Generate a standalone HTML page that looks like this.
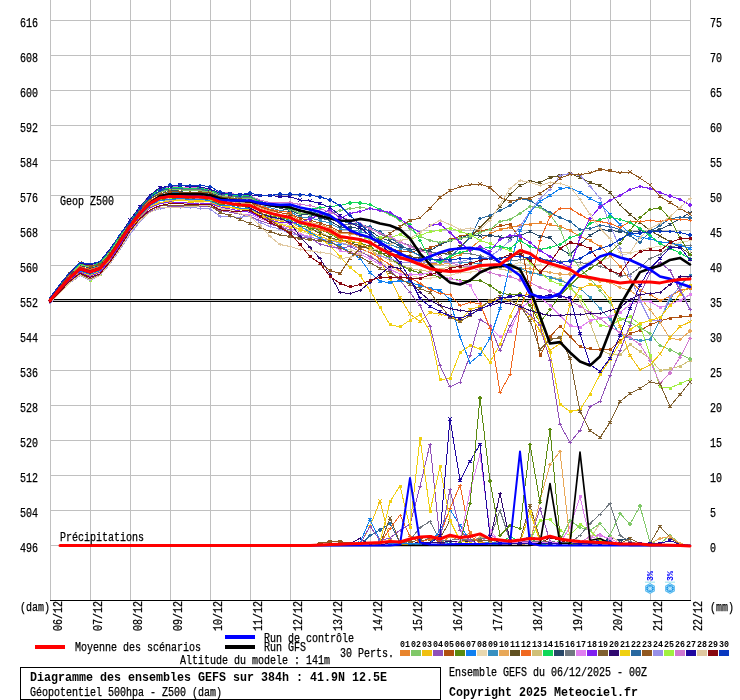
<!DOCTYPE html>
<html lang="fr"><head><meta charset="utf-8"><title>Diagramme des ensembles GEFS</title>
<style>html,body{margin:0;padding:0;background:#fff}body{width:740px;height:700px;overflow:hidden}svg{display:block;will-change:transform}text{font-family:"Liberation Mono", "DejaVu Sans Mono", monospace;fill:#000}.s{font-size:12px;stroke:#000;stroke-width:.25px}.b{font-size:12.4px;font-weight:bold}.t{font-size:9.5px;font-weight:bold}.tb{font-size:9px;font-weight:bold}</style></head><body>
<svg width="740" height="700" viewBox="0 0 740 700">
<rect width="740" height="700" fill="#fff"/>
<path d="M50.5 0V600M90.5 0V600M130.5 0V600M170.5 0V600M210.5 0V600M250.5 0V600M290.5 0V600M330.5 0V600M370.5 0V600M410.5 0V600M450.5 0V600M490.5 0V600M530.5 0V600M570.5 0V600M610.5 0V600M650.5 0V600M690.5 0V600M50 20.5H691M50 55.5H691M50 90.5H691M50 125.5H691M50 160.5H691M50 195.5H691M50 230.5H691M50 265.5H691M50 300.5H691M50 335.5H691M50 370.5H691M50 405.5H691M50 440.5H691M50 475.5H691M50 510.5H691M50 545.5H691" stroke="#c0c0c0" stroke-width="1" fill="none" shape-rendering="crispEdges"/>
<text class="s" x="20" y="27" textLength="18" lengthAdjust="spacingAndGlyphs">616</text>
<text class="s" x="710" y="27" textLength="12" lengthAdjust="spacingAndGlyphs">75</text>
<text class="s" x="20" y="62" textLength="18" lengthAdjust="spacingAndGlyphs">608</text>
<text class="s" x="710" y="62" textLength="12" lengthAdjust="spacingAndGlyphs">70</text>
<text class="s" x="20" y="97" textLength="18" lengthAdjust="spacingAndGlyphs">600</text>
<text class="s" x="710" y="97" textLength="12" lengthAdjust="spacingAndGlyphs">65</text>
<text class="s" x="20" y="132" textLength="18" lengthAdjust="spacingAndGlyphs">592</text>
<text class="s" x="710" y="132" textLength="12" lengthAdjust="spacingAndGlyphs">60</text>
<text class="s" x="20" y="167" textLength="18" lengthAdjust="spacingAndGlyphs">584</text>
<text class="s" x="710" y="167" textLength="12" lengthAdjust="spacingAndGlyphs">55</text>
<text class="s" x="20" y="202" textLength="18" lengthAdjust="spacingAndGlyphs">576</text>
<text class="s" x="710" y="202" textLength="12" lengthAdjust="spacingAndGlyphs">50</text>
<text class="s" x="20" y="237" textLength="18" lengthAdjust="spacingAndGlyphs">568</text>
<text class="s" x="710" y="237" textLength="12" lengthAdjust="spacingAndGlyphs">45</text>
<text class="s" x="20" y="272" textLength="18" lengthAdjust="spacingAndGlyphs">560</text>
<text class="s" x="710" y="272" textLength="12" lengthAdjust="spacingAndGlyphs">40</text>
<text class="s" x="20" y="307" textLength="18" lengthAdjust="spacingAndGlyphs">552</text>
<text class="s" x="710" y="307" textLength="12" lengthAdjust="spacingAndGlyphs">35</text>
<text class="s" x="20" y="342" textLength="18" lengthAdjust="spacingAndGlyphs">544</text>
<text class="s" x="710" y="342" textLength="12" lengthAdjust="spacingAndGlyphs">30</text>
<text class="s" x="20" y="377" textLength="18" lengthAdjust="spacingAndGlyphs">536</text>
<text class="s" x="710" y="377" textLength="12" lengthAdjust="spacingAndGlyphs">25</text>
<text class="s" x="20" y="412" textLength="18" lengthAdjust="spacingAndGlyphs">528</text>
<text class="s" x="710" y="412" textLength="12" lengthAdjust="spacingAndGlyphs">20</text>
<text class="s" x="20" y="447" textLength="18" lengthAdjust="spacingAndGlyphs">520</text>
<text class="s" x="710" y="447" textLength="12" lengthAdjust="spacingAndGlyphs">15</text>
<text class="s" x="20" y="482" textLength="18" lengthAdjust="spacingAndGlyphs">512</text>
<text class="s" x="710" y="482" textLength="12" lengthAdjust="spacingAndGlyphs">10</text>
<text class="s" x="20" y="517" textLength="18" lengthAdjust="spacingAndGlyphs">504</text>
<text class="s" x="710" y="517" textLength="6" lengthAdjust="spacingAndGlyphs">5</text>
<text class="s" x="20" y="552" textLength="18" lengthAdjust="spacingAndGlyphs">496</text>
<text class="s" x="710" y="552" textLength="6" lengthAdjust="spacingAndGlyphs">0</text>
<text class="s" x="20" y="611" textLength="30" lengthAdjust="spacingAndGlyphs">(dam)</text>
<text class="s" x="710" y="611" textLength="24" lengthAdjust="spacingAndGlyphs">(mm)</text>
<path d="M50 299.5H690M50 301.5H690" stroke="#000" stroke-width="1" shape-rendering="crispEdges"/>
<g stroke-linecap="round">
<polyline points="50,302.3 60,291.3 70,280.6 80,272.9 90,277.2 100,272.3 110,261.2 120,246.4 130,231.5 140,218.3 150,208.2 160,203.8 170,202.5 180,203.7 190,203.1 200,202.9 210,203.2 220,207.5 230,209.4 240,211 250,212.1 260,217.2 270,221.3 280,223.1 290,225.9 300,231.5 310,234 320,238 330,241.5 340,248 350,249.9 360,252.6 370,255.3 380,261.6 390,267.1 400,271.6 410,275.2 420,278 430,278.2 440,276.5 450,275.1 460,272.8 470,272 480,270.5 490,268.5 500,266.6 510,265.3 520,262.5 530,264.6 540,264.7 550,266.3 560,268.5 570,266 580,264.5 590,261.8 600,260.5 610,257.8 620,255.8 630,253.1 640,250.5 650,247.9 660,246.2 670,245 680,242.7 690,240.5" fill="none" stroke="#e8d8b0" stroke-width="1" stroke-linejoin="round" shape-rendering="crispEdges"/>
<path d="M288.5 225.9h3M290 224.4v3M298.5 231.5h3M300 230v3M308.5 234h3M310 232.5v3M318.5 238h3M320 236.5v3M328.5 241.5h3M330 240v3M338.5 248h3M340 246.5v3M348.5 249.9h3M350 248.4v3M358.5 252.6h3M360 251.1v3M368.5 255.3h3M370 253.8v3M378.5 261.6h3M380 260.1v3M388.5 267.1h3M390 265.6v3M398.5 271.6h3M400 270.1v3M408.5 275.2h3M410 273.7v3M418.5 278h3M420 276.5v3M428.5 278.2h3M430 276.7v3M438.5 276.5h3M440 275v3M448.5 275.1h3M450 273.6v3M458.5 272.8h3M460 271.3v3M468.5 272h3M470 270.5v3M478.5 270.5h3M480 269v3M488.5 268.5h3M490 267v3M498.5 266.6h3M500 265.1v3M508.5 265.3h3M510 263.8v3M518.5 262.5h3M520 261v3M528.5 264.6h3M530 263.1v3M538.5 264.7h3M540 263.2v3M548.5 266.3h3M550 264.8v3M558.5 268.5h3M560 267v3M568.5 266h3M570 264.5v3M578.5 264.5h3M580 263v3M588.5 261.8h3M590 260.3v3M598.5 260.5h3M600 259v3M608.5 257.8h3M610 256.3v3M618.5 255.8h3M620 254.3v3M628.5 253.1h3M630 251.6v3M638.5 250.5h3M640 249v3M648.5 247.9h3M650 246.4v3M658.5 246.2h3M660 244.7v3M668.5 245h3M670 243.5v3M678.5 242.7h3M680 241.2v3M688.5 240.5h3M690 239v3" stroke="#e8d8b0" stroke-width="1" fill="none" shape-rendering="crispEdges"/>
<polyline points="50,301.4 60,290 70,279.3 80,271.1 90,274.9 100,271.1 110,258.9 120,243.1 130,229.4 140,215.3 150,205.9 160,200.8 170,200.3 180,199.4 190,200.2 200,200 210,200.5 220,205 230,207.3 240,207.9 250,210 260,213.7 270,217.8 280,220.2 290,221.7 300,227.7 310,229.6 320,232.3 330,237.1 340,242.6 350,244.8 360,245.4 370,249.6 380,255.8 390,260.3 400,265 410,268.5 420,270.4 430,271.5 440,269.5 450,266.5 460,267.1 470,267.1 480,267.9 490,268.5 500,268.8 510,271 520,271.6 530,272.5 540,273.6 550,277.4 560,278.5 570,285.5 580,300.5 590,322.5 600,349.5 610,354.5 620,354.9 630,344.5 640,351.5 650,358.5 660,370.5 670,368.9 680,366.1 690,360.5" fill="none" stroke="#d0c078" stroke-width="1" stroke-linejoin="round" shape-rendering="crispEdges"/>
<path d="M289 220.7h2v2h-2zM299 226.7h2v2h-2zM309 228.6h2v2h-2zM319 231.3h2v2h-2zM329 236.1h2v2h-2zM339 241.6h2v2h-2zM349 243.8h2v2h-2zM359 244.4h2v2h-2zM369 248.6h2v2h-2zM379 254.8h2v2h-2zM389 259.3h2v2h-2zM399 264h2v2h-2zM409 267.5h2v2h-2zM419 269.4h2v2h-2zM429 270.5h2v2h-2zM439 268.5h2v2h-2zM449 265.5h2v2h-2zM459 266.1h2v2h-2zM469 266.1h2v2h-2zM479 266.9h2v2h-2zM489 267.5h2v2h-2zM499 267.8h2v2h-2zM509 270h2v2h-2zM519 270.6h2v2h-2zM529 271.5h2v2h-2zM539 272.6h2v2h-2zM549 276.4h2v2h-2zM559 277.5h2v2h-2zM569 284.5h2v2h-2zM579 299.5h2v2h-2zM589 321.5h2v2h-2zM599 348.5h2v2h-2zM609 353.5h2v2h-2zM619 353.9h2v2h-2zM629 343.5h2v2h-2zM639 350.5h2v2h-2zM649 357.5h2v2h-2zM659 369.5h2v2h-2zM669 367.9h2v2h-2zM679 365.1h2v2h-2zM689 359.5h2v2h-2z" stroke="#d0c078" stroke-width="1" fill="#d0c078" shape-rendering="crispEdges"/>
<polyline points="50,300 60,287.8 70,276.4 80,267.4 90,270.7 100,266.8 110,255.1 120,240.6 130,224.7 140,212.7 150,202 160,196.1 170,195.3 180,194.6 190,194.4 200,195 210,196.6 220,200.1 230,200.9 240,203 250,203.5 260,207.6 270,211.2 280,212.5 290,214.9 300,220.4 310,222.4 320,224.3 330,228 340,233.5 350,234.1 360,235.7 370,239 380,243.8 390,250.1 400,254.1 410,255.6 420,260.3 430,263.9 440,264.4 450,263.5 460,262.5 470,262.6 480,264.6 490,265.6 500,266.5 510,268.4 520,268.5 530,268.6 540,270.5 550,272.5 560,274.2 570,274.1 580,276.5 590,279.2 600,281.2 610,282.5 620,287.4 630,290.5 640,297.5 650,309.5 660,322.5 670,338.5 680,339.5 690,331.1" fill="none" stroke="#e8a858" stroke-width="1" stroke-linejoin="round" shape-rendering="crispEdges"/>
<path d="M290 213.4l1.5 1.5l-1.5 1.5l-1.5 -1.5zM300 218.9l1.5 1.5l-1.5 1.5l-1.5 -1.5zM310 220.9l1.5 1.5l-1.5 1.5l-1.5 -1.5zM320 222.8l1.5 1.5l-1.5 1.5l-1.5 -1.5zM330 226.5l1.5 1.5l-1.5 1.5l-1.5 -1.5zM340 232l1.5 1.5l-1.5 1.5l-1.5 -1.5zM350 232.6l1.5 1.5l-1.5 1.5l-1.5 -1.5zM360 234.2l1.5 1.5l-1.5 1.5l-1.5 -1.5zM370 237.5l1.5 1.5l-1.5 1.5l-1.5 -1.5zM380 242.3l1.5 1.5l-1.5 1.5l-1.5 -1.5zM390 248.6l1.5 1.5l-1.5 1.5l-1.5 -1.5zM400 252.6l1.5 1.5l-1.5 1.5l-1.5 -1.5zM410 254.1l1.5 1.5l-1.5 1.5l-1.5 -1.5zM420 258.8l1.5 1.5l-1.5 1.5l-1.5 -1.5zM430 262.4l1.5 1.5l-1.5 1.5l-1.5 -1.5zM440 262.9l1.5 1.5l-1.5 1.5l-1.5 -1.5zM450 262l1.5 1.5l-1.5 1.5l-1.5 -1.5zM460 261l1.5 1.5l-1.5 1.5l-1.5 -1.5zM470 261.1l1.5 1.5l-1.5 1.5l-1.5 -1.5zM480 263.1l1.5 1.5l-1.5 1.5l-1.5 -1.5zM490 264.1l1.5 1.5l-1.5 1.5l-1.5 -1.5zM500 265l1.5 1.5l-1.5 1.5l-1.5 -1.5zM510 266.9l1.5 1.5l-1.5 1.5l-1.5 -1.5zM520 267l1.5 1.5l-1.5 1.5l-1.5 -1.5zM530 267.1l1.5 1.5l-1.5 1.5l-1.5 -1.5zM540 269l1.5 1.5l-1.5 1.5l-1.5 -1.5zM550 271l1.5 1.5l-1.5 1.5l-1.5 -1.5zM560 272.7l1.5 1.5l-1.5 1.5l-1.5 -1.5zM570 272.6l1.5 1.5l-1.5 1.5l-1.5 -1.5zM580 275l1.5 1.5l-1.5 1.5l-1.5 -1.5zM590 277.7l1.5 1.5l-1.5 1.5l-1.5 -1.5zM600 279.7l1.5 1.5l-1.5 1.5l-1.5 -1.5zM610 281l1.5 1.5l-1.5 1.5l-1.5 -1.5zM620 285.9l1.5 1.5l-1.5 1.5l-1.5 -1.5zM630 289l1.5 1.5l-1.5 1.5l-1.5 -1.5zM640 296l1.5 1.5l-1.5 1.5l-1.5 -1.5zM650 308l1.5 1.5l-1.5 1.5l-1.5 -1.5zM660 321l1.5 1.5l-1.5 1.5l-1.5 -1.5zM670 337l1.5 1.5l-1.5 1.5l-1.5 -1.5zM680 338l1.5 1.5l-1.5 1.5l-1.5 -1.5zM690 329.6l1.5 1.5l-1.5 1.5l-1.5 -1.5z" stroke="#e8a858" stroke-width="1" fill="#e8a858" shape-rendering="crispEdges"/>
<polyline points="50,299.4 60,286.8 70,275.2 80,266.5 90,269.5 100,266.2 110,253.7 120,239.2 130,224.1 140,210 150,199.4 160,193.4 170,192.3 180,192.4 190,192.2 200,193.1 210,194.2 220,198.1 230,199.3 240,200 250,201.1 260,206.1 270,207.6 280,210.5 290,211.7 300,216.9 310,217.9 320,220.5 330,223.2 340,228.7 350,230 360,231.3 370,234.8 380,239.7 390,244.7 400,248.2 410,250.9 420,255.8 430,258.4 440,261.3 450,262.2 460,262.1 470,262.5 480,263.9 490,265 500,266.3 510,266.5 520,268.5 530,272.5 540,274.5 550,277.2 560,280.5 570,284.6 580,288.5 590,297.5 600,308.5 610,319.5 620,334.5 630,338.5 640,340.5 650,339.5 660,320.5 670,299.5 680,285.5 690,275.5" fill="none" stroke="#3890c0" stroke-width="1" stroke-linejoin="round" shape-rendering="crispEdges"/>
<path d="M289 210.7h2v2h-2zM299 215.9h2v2h-2zM309 216.9h2v2h-2zM319 219.5h2v2h-2zM329 222.2h2v2h-2zM339 227.7h2v2h-2zM349 229h2v2h-2zM359 230.3h2v2h-2zM369 233.8h2v2h-2zM379 238.7h2v2h-2zM389 243.7h2v2h-2zM399 247.2h2v2h-2zM409 249.9h2v2h-2zM419 254.8h2v2h-2zM429 257.4h2v2h-2zM439 260.3h2v2h-2zM449 261.2h2v2h-2zM459 261.1h2v2h-2zM469 261.5h2v2h-2zM479 262.9h2v2h-2zM489 264h2v2h-2zM499 265.3h2v2h-2zM509 265.5h2v2h-2zM519 267.5h2v2h-2zM529 271.5h2v2h-2zM539 273.5h2v2h-2zM549 276.2h2v2h-2zM559 279.5h2v2h-2zM569 283.6h2v2h-2zM579 287.5h2v2h-2zM589 296.5h2v2h-2zM599 307.5h2v2h-2zM609 318.5h2v2h-2zM619 333.5h2v2h-2zM629 337.5h2v2h-2zM639 339.5h2v2h-2zM649 338.5h2v2h-2zM659 319.5h2v2h-2zM669 298.5h2v2h-2zM679 284.5h2v2h-2zM689 274.5h2v2h-2z" stroke="#3890c0" stroke-width="1" fill="#3890c0" shape-rendering="crispEdges"/>
<polyline points="50,298.5 60,285.5 70,273.8 80,264.7 90,267 100,263.8 110,251.3 120,236.6 130,221.5 140,208.9 150,197.6 160,191 170,189.1 180,189.1 190,189.2 200,189.8 210,191.1 220,195 230,196.9 240,197.1 250,197.3 260,202.1 270,205.1 280,206.7 290,207.9 300,211.5 310,212.9 320,215.2 330,217.8 340,224 350,224.1 360,225.3 370,228.6 380,233.6 390,239 400,242.2 410,245.3 420,248.6 430,252.5 440,253.3 450,254.6 460,253.4 470,253.7 480,255.8 490,258.8 500,262.5 510,260.8 520,259.8 530,258.6 540,258.5 550,260.5 560,261.1 570,261.4 580,262.5 590,264.4 600,266.5 610,269.5 620,276.5 630,274.5 640,267.5 650,258.5 660,254.5 670,246.5 680,245.5 690,245.5" fill="none" stroke="#707880" stroke-width="1" stroke-linejoin="round" shape-rendering="crispEdges"/>
<path d="M288.5 207.9h3M290 206.4v3M298.5 211.5h3M300 210v3M308.5 212.9h3M310 211.4v3M318.5 215.2h3M320 213.7v3M328.5 217.8h3M330 216.3v3M338.5 224h3M340 222.5v3M348.5 224.1h3M350 222.6v3M358.5 225.3h3M360 223.8v3M368.5 228.6h3M370 227.1v3M378.5 233.6h3M380 232.1v3M388.5 239h3M390 237.5v3M398.5 242.2h3M400 240.7v3M408.5 245.3h3M410 243.8v3M418.5 248.6h3M420 247.1v3M428.5 252.5h3M430 251v3M438.5 253.3h3M440 251.8v3M448.5 254.6h3M450 253.1v3M458.5 253.4h3M460 251.9v3M468.5 253.7h3M470 252.2v3M478.5 255.8h3M480 254.3v3M488.5 258.8h3M490 257.3v3M498.5 262.5h3M500 261v3M508.5 260.8h3M510 259.3v3M518.5 259.8h3M520 258.3v3M528.5 258.6h3M530 257.1v3M538.5 258.5h3M540 257v3M548.5 260.5h3M550 259v3M558.5 261.1h3M560 259.6v3M568.5 261.4h3M570 259.9v3M578.5 262.5h3M580 261v3M588.5 264.4h3M590 262.9v3M598.5 266.5h3M600 265v3M608.5 269.5h3M610 268v3M618.5 276.5h3M620 275v3M628.5 274.5h3M630 273v3M638.5 267.5h3M640 266v3M648.5 258.5h3M650 257v3M658.5 254.5h3M660 253v3M668.5 246.5h3M670 245v3M678.5 245.5h3M680 244v3M688.5 245.5h3M690 244v3" stroke="#707880" stroke-width="1" fill="none" shape-rendering="crispEdges"/>
<polyline points="50,300.6 60,288.5 70,277.8 80,269.4 90,271.9 100,269.3 110,257.2 120,241.6 130,226.6 140,214 150,203.7 160,198.4 170,197.1 180,196.2 190,197.7 200,197.6 210,198.9 220,202.8 230,204.1 240,205.7 250,205.4 260,210.5 270,214.2 280,216.7 290,217.2 300,223.7 310,225.3 320,227.4 330,230.6 340,237.8 350,238.4 360,240.4 370,242.6 380,249.4 390,254.1 400,258 410,261.2 420,263.6 430,264.4 440,262.5 450,258.5 460,254.5 470,248.5 480,240.5 490,233.5 500,229.5 510,227.5 520,225.5 530,224.1 540,222.9 550,224.9 560,226.5 570,230.5 580,236.5 590,240.5 600,246.5 610,255.5 620,266.5 630,280.5 640,290.5 650,294.5 660,300.5 670,296.5 680,290.5 690,288.5" fill="none" stroke="#e8842c" stroke-width="1" stroke-linejoin="round" shape-rendering="crispEdges"/>
<path d="M289 216.2h2v2h-2zM299 222.7h2v2h-2zM309 224.3h2v2h-2zM319 226.4h2v2h-2zM329 229.6h2v2h-2zM339 236.8h2v2h-2zM349 237.4h2v2h-2zM359 239.4h2v2h-2zM369 241.6h2v2h-2zM379 248.4h2v2h-2zM389 253.1h2v2h-2zM399 257h2v2h-2zM409 260.2h2v2h-2zM419 262.6h2v2h-2zM429 263.4h2v2h-2zM439 261.5h2v2h-2zM449 257.5h2v2h-2zM459 253.5h2v2h-2zM469 247.5h2v2h-2zM479 239.5h2v2h-2zM489 232.5h2v2h-2zM499 228.5h2v2h-2zM509 226.5h2v2h-2zM519 224.5h2v2h-2zM529 223.1h2v2h-2zM539 221.9h2v2h-2zM549 223.9h2v2h-2zM559 225.5h2v2h-2zM569 229.5h2v2h-2zM579 235.5h2v2h-2zM589 239.5h2v2h-2zM599 245.5h2v2h-2zM609 254.5h2v2h-2zM619 265.5h2v2h-2zM629 279.5h2v2h-2zM639 289.5h2v2h-2zM649 293.5h2v2h-2zM659 299.5h2v2h-2zM669 295.5h2v2h-2zM679 289.5h2v2h-2zM689 287.5h2v2h-2z" stroke="#e8842c" stroke-width="1" fill="#e8842c" shape-rendering="crispEdges"/>
<polyline points="50,299.8 60,287.5 70,276.2 80,267.6 90,270.2 100,267.3 110,254.5 120,239.9 130,224.7 140,211.7 150,201 160,195.9 170,194.2 180,194 190,194.4 200,193.5 210,195.9 220,199.3 230,200.2 240,201.7 250,202.3 260,206.5 270,209.9 280,212.7 290,214 300,218.5 310,220.2 320,223.1 330,226.3 340,231.8 350,232.8 360,235.1 370,237.5 380,243.6 390,248.3 400,251.2 410,251.5 420,250.5 430,247.7 440,244.5 450,239.5 460,236.5 470,234.1 480,230.5 490,229.5 500,225.5 510,224.5 520,238.5 530,290.5 540,355.5 550,336.5 560,326.1 570,336.5 580,346.9 590,348.9 600,349.9 610,349.9 620,340.5 630,333.5 640,330.5 650,324.9 660,320.9 670,318.1 680,316.9 690,315.9" fill="none" stroke="#b05010" stroke-width="1" stroke-linejoin="round" shape-rendering="crispEdges"/>
<path d="M289 213h2v2h-2zM299 217.5h2v2h-2zM309 219.2h2v2h-2zM319 222.1h2v2h-2zM329 225.3h2v2h-2zM339 230.8h2v2h-2zM349 231.8h2v2h-2zM359 234.1h2v2h-2zM369 236.5h2v2h-2zM379 242.6h2v2h-2zM389 247.3h2v2h-2zM399 250.2h2v2h-2zM409 250.5h2v2h-2zM419 249.5h2v2h-2zM429 246.7h2v2h-2zM439 243.5h2v2h-2zM449 238.5h2v2h-2zM459 235.5h2v2h-2zM469 233.1h2v2h-2zM479 229.5h2v2h-2zM489 228.5h2v2h-2zM499 224.5h2v2h-2zM509 223.5h2v2h-2zM519 237.5h2v2h-2zM529 289.5h2v2h-2zM539 354.5h2v2h-2zM549 335.5h2v2h-2zM559 325.1h2v2h-2zM569 335.5h2v2h-2zM579 345.9h2v2h-2zM589 347.9h2v2h-2zM599 348.9h2v2h-2zM609 348.9h2v2h-2zM619 339.5h2v2h-2zM629 332.5h2v2h-2zM639 329.5h2v2h-2zM649 323.9h2v2h-2zM659 319.9h2v2h-2zM669 317.1h2v2h-2zM679 315.9h2v2h-2zM689 314.9h2v2h-2z" stroke="#b05010" stroke-width="1" fill="#b05010" shape-rendering="crispEdges"/>
<polyline points="50,300.4 60,288.2 70,277.1 80,268.6 90,272.1 100,268.2 110,256.2 120,240.7 130,226.2 140,212.9 150,203.7 160,197.3 170,196.3 180,195.5 190,196.1 200,196.4 210,197.7 220,201.7 230,202.4 240,205 250,205.6 260,209.7 270,212.9 280,215.1 290,216.4 300,222.3 310,227.6 320,233.7 330,237.7 340,240.5 350,242.8 360,245.7 370,249 380,252.5 390,254.7 400,254.6 410,256.3 420,258.5 430,255.9 440,254 450,252.5 460,246.5 470,237.5 480,227.5 490,217.5 500,206.5 510,194.5 520,185.5 530,181.5 540,182.5 550,177.5 560,175.5 570,173.5 580,177.5 590,182.5 600,185.5 610,192.5 620,204.9 630,214.5 640,222.5 650,230.5 660,236.1 670,241.5 680,246.9 690,254.1" fill="none" stroke="#605020" stroke-width="1" stroke-linejoin="round" shape-rendering="crispEdges"/>
<path d="M288.8 215.2l2.4 2.4M291.2 215.2l-2.4 2.4M298.8 221.1l2.4 2.4M301.2 221.1l-2.4 2.4M308.8 226.4l2.4 2.4M311.2 226.4l-2.4 2.4M318.8 232.5l2.4 2.4M321.2 232.5l-2.4 2.4M328.8 236.5l2.4 2.4M331.2 236.5l-2.4 2.4M338.8 239.3l2.4 2.4M341.2 239.3l-2.4 2.4M348.8 241.6l2.4 2.4M351.2 241.6l-2.4 2.4M358.8 244.5l2.4 2.4M361.2 244.5l-2.4 2.4M368.8 247.8l2.4 2.4M371.2 247.8l-2.4 2.4M378.8 251.3l2.4 2.4M381.2 251.3l-2.4 2.4M388.8 253.5l2.4 2.4M391.2 253.5l-2.4 2.4M398.8 253.4l2.4 2.4M401.2 253.4l-2.4 2.4M408.8 255.1l2.4 2.4M411.2 255.1l-2.4 2.4M418.8 257.3l2.4 2.4M421.2 257.3l-2.4 2.4M428.8 254.7l2.4 2.4M431.2 254.7l-2.4 2.4M438.8 252.8l2.4 2.4M441.2 252.8l-2.4 2.4M448.8 251.3l2.4 2.4M451.2 251.3l-2.4 2.4M458.8 245.3l2.4 2.4M461.2 245.3l-2.4 2.4M468.8 236.3l2.4 2.4M471.2 236.3l-2.4 2.4M478.8 226.3l2.4 2.4M481.2 226.3l-2.4 2.4M488.8 216.3l2.4 2.4M491.2 216.3l-2.4 2.4M498.8 205.3l2.4 2.4M501.2 205.3l-2.4 2.4M508.8 193.3l2.4 2.4M511.2 193.3l-2.4 2.4M518.8 184.3l2.4 2.4M521.2 184.3l-2.4 2.4M528.8 180.3l2.4 2.4M531.2 180.3l-2.4 2.4M538.8 181.3l2.4 2.4M541.2 181.3l-2.4 2.4M548.8 176.3l2.4 2.4M551.2 176.3l-2.4 2.4M558.8 174.3l2.4 2.4M561.2 174.3l-2.4 2.4M568.8 172.3l2.4 2.4M571.2 172.3l-2.4 2.4M578.8 176.3l2.4 2.4M581.2 176.3l-2.4 2.4M588.8 181.3l2.4 2.4M591.2 181.3l-2.4 2.4M598.8 184.3l2.4 2.4M601.2 184.3l-2.4 2.4M608.8 191.3l2.4 2.4M611.2 191.3l-2.4 2.4M618.8 203.7l2.4 2.4M621.2 203.7l-2.4 2.4M628.8 213.3l2.4 2.4M631.2 213.3l-2.4 2.4M638.8 221.3l2.4 2.4M641.2 221.3l-2.4 2.4M648.8 229.3l2.4 2.4M651.2 229.3l-2.4 2.4M658.8 234.9l2.4 2.4M661.2 234.9l-2.4 2.4M668.8 240.3l2.4 2.4M671.2 240.3l-2.4 2.4M678.8 245.7l2.4 2.4M681.2 245.7l-2.4 2.4M688.8 252.9l2.4 2.4M691.2 252.9l-2.4 2.4" stroke="#605020" stroke-width="1" fill="none" shape-rendering="crispEdges"/>
<polyline points="50,298.9 60,286.1 70,274.9 80,265.5 90,268.2 100,265 110,252.5 120,237.5 130,222.9 140,209.1 150,199.2 160,192.7 170,189.8 180,191.2 190,190.6 200,191.1 210,192.7 220,196.5 230,197.5 240,199.2 250,198.9 260,203.2 270,205.6 280,208.4 290,210.4 300,214.4 310,215 320,217.5 330,220.8 340,226.9 350,227.6 360,228.3 370,230.6 380,237.6 390,241 400,246.3 410,249.3 420,250.8 430,250.5 440,244.9 450,240.5 460,238 470,234.5 480,236.1 490,235.5 500,236.9 510,238.1 520,235.5 530,231.5 540,236.5 550,237.5 560,248.5 570,254.5 580,244.5 590,235.5 600,229.5 610,230.5 620,231.5 630,232.5 640,230.9 650,231.5 660,229.5 670,224.5 680,218.5 690,212.9" fill="none" stroke="#284868" stroke-width="1" stroke-linejoin="round" shape-rendering="crispEdges"/>
<path d="M288.8 209.2l2.4 2.4M291.2 209.2l-2.4 2.4M298.8 213.2l2.4 2.4M301.2 213.2l-2.4 2.4M308.8 213.8l2.4 2.4M311.2 213.8l-2.4 2.4M318.8 216.3l2.4 2.4M321.2 216.3l-2.4 2.4M328.8 219.6l2.4 2.4M331.2 219.6l-2.4 2.4M338.8 225.7l2.4 2.4M341.2 225.7l-2.4 2.4M348.8 226.4l2.4 2.4M351.2 226.4l-2.4 2.4M358.8 227.1l2.4 2.4M361.2 227.1l-2.4 2.4M368.8 229.4l2.4 2.4M371.2 229.4l-2.4 2.4M378.8 236.4l2.4 2.4M381.2 236.4l-2.4 2.4M388.8 239.8l2.4 2.4M391.2 239.8l-2.4 2.4M398.8 245.1l2.4 2.4M401.2 245.1l-2.4 2.4M408.8 248.1l2.4 2.4M411.2 248.1l-2.4 2.4M418.8 249.6l2.4 2.4M421.2 249.6l-2.4 2.4M428.8 249.3l2.4 2.4M431.2 249.3l-2.4 2.4M438.8 243.7l2.4 2.4M441.2 243.7l-2.4 2.4M448.8 239.3l2.4 2.4M451.2 239.3l-2.4 2.4M458.8 236.8l2.4 2.4M461.2 236.8l-2.4 2.4M468.8 233.3l2.4 2.4M471.2 233.3l-2.4 2.4M478.8 234.9l2.4 2.4M481.2 234.9l-2.4 2.4M488.8 234.3l2.4 2.4M491.2 234.3l-2.4 2.4M498.8 235.7l2.4 2.4M501.2 235.7l-2.4 2.4M508.8 236.9l2.4 2.4M511.2 236.9l-2.4 2.4M518.8 234.3l2.4 2.4M521.2 234.3l-2.4 2.4M528.8 230.3l2.4 2.4M531.2 230.3l-2.4 2.4M538.8 235.3l2.4 2.4M541.2 235.3l-2.4 2.4M548.8 236.3l2.4 2.4M551.2 236.3l-2.4 2.4M558.8 247.3l2.4 2.4M561.2 247.3l-2.4 2.4M568.8 253.3l2.4 2.4M571.2 253.3l-2.4 2.4M578.8 243.3l2.4 2.4M581.2 243.3l-2.4 2.4M588.8 234.3l2.4 2.4M591.2 234.3l-2.4 2.4M598.8 228.3l2.4 2.4M601.2 228.3l-2.4 2.4M608.8 229.3l2.4 2.4M611.2 229.3l-2.4 2.4M618.8 230.3l2.4 2.4M621.2 230.3l-2.4 2.4M628.8 231.3l2.4 2.4M631.2 231.3l-2.4 2.4M638.8 229.7l2.4 2.4M641.2 229.7l-2.4 2.4M648.8 230.3l2.4 2.4M651.2 230.3l-2.4 2.4M658.8 228.3l2.4 2.4M661.2 228.3l-2.4 2.4M668.8 223.3l2.4 2.4M671.2 223.3l-2.4 2.4M678.8 217.3l2.4 2.4M681.2 217.3l-2.4 2.4M688.8 211.7l2.4 2.4M691.2 211.7l-2.4 2.4" stroke="#284868" stroke-width="1" fill="none" shape-rendering="crispEdges"/>
<polyline points="50,298.3 60,285.4 70,273.4 80,264.4 90,266.4 100,263.3 110,251.4 120,236.6 130,220.6 140,207 150,196.6 160,190.7 170,188.7 180,188 190,188.3 200,188.8 210,191.4 220,194.4 230,194.8 240,197.1 250,196.3 260,200.8 270,204.4 280,205.6 290,206.9 300,210.9 310,211.9 320,213.9 330,216.9 340,221.5 350,222.6 360,224.7 370,226.9 380,232.2 390,237.5 400,244.6 410,250.5 420,255.7 430,258.5 440,260.5 450,256.5 460,248.5 470,237.5 480,218.5 490,215.5 500,210.5 510,205.5 520,198.5 530,200.5 540,206.5 550,212.9 560,217.5 570,221.5 580,229.5 590,228.5 600,225.5 610,226.5 620,229.5 630,235.5 640,242.5 650,231.5 660,225.5 670,218.5 680,217.5 690,217.9" fill="none" stroke="#2868a0" stroke-width="1" stroke-linejoin="round" shape-rendering="crispEdges"/>
<path d="M290 205.4l1.5 1.5l-1.5 1.5l-1.5 -1.5zM300 209.4l1.5 1.5l-1.5 1.5l-1.5 -1.5zM310 210.4l1.5 1.5l-1.5 1.5l-1.5 -1.5zM320 212.4l1.5 1.5l-1.5 1.5l-1.5 -1.5zM330 215.4l1.5 1.5l-1.5 1.5l-1.5 -1.5zM340 220l1.5 1.5l-1.5 1.5l-1.5 -1.5zM350 221.1l1.5 1.5l-1.5 1.5l-1.5 -1.5zM360 223.2l1.5 1.5l-1.5 1.5l-1.5 -1.5zM370 225.4l1.5 1.5l-1.5 1.5l-1.5 -1.5zM380 230.7l1.5 1.5l-1.5 1.5l-1.5 -1.5zM390 236l1.5 1.5l-1.5 1.5l-1.5 -1.5zM400 243.1l1.5 1.5l-1.5 1.5l-1.5 -1.5zM410 249l1.5 1.5l-1.5 1.5l-1.5 -1.5zM420 254.2l1.5 1.5l-1.5 1.5l-1.5 -1.5zM430 257l1.5 1.5l-1.5 1.5l-1.5 -1.5zM440 259l1.5 1.5l-1.5 1.5l-1.5 -1.5zM450 255l1.5 1.5l-1.5 1.5l-1.5 -1.5zM460 247l1.5 1.5l-1.5 1.5l-1.5 -1.5zM470 236l1.5 1.5l-1.5 1.5l-1.5 -1.5zM480 217l1.5 1.5l-1.5 1.5l-1.5 -1.5zM490 214l1.5 1.5l-1.5 1.5l-1.5 -1.5zM500 209l1.5 1.5l-1.5 1.5l-1.5 -1.5zM510 204l1.5 1.5l-1.5 1.5l-1.5 -1.5zM520 197l1.5 1.5l-1.5 1.5l-1.5 -1.5zM530 199l1.5 1.5l-1.5 1.5l-1.5 -1.5zM540 205l1.5 1.5l-1.5 1.5l-1.5 -1.5zM550 211.4l1.5 1.5l-1.5 1.5l-1.5 -1.5zM560 216l1.5 1.5l-1.5 1.5l-1.5 -1.5zM570 220l1.5 1.5l-1.5 1.5l-1.5 -1.5zM580 228l1.5 1.5l-1.5 1.5l-1.5 -1.5zM590 227l1.5 1.5l-1.5 1.5l-1.5 -1.5zM600 224l1.5 1.5l-1.5 1.5l-1.5 -1.5zM610 225l1.5 1.5l-1.5 1.5l-1.5 -1.5zM620 228l1.5 1.5l-1.5 1.5l-1.5 -1.5zM630 234l1.5 1.5l-1.5 1.5l-1.5 -1.5zM640 241l1.5 1.5l-1.5 1.5l-1.5 -1.5zM650 230l1.5 1.5l-1.5 1.5l-1.5 -1.5zM660 224l1.5 1.5l-1.5 1.5l-1.5 -1.5zM670 217l1.5 1.5l-1.5 1.5l-1.5 -1.5zM680 216l1.5 1.5l-1.5 1.5l-1.5 -1.5zM690 216.4l1.5 1.5l-1.5 1.5l-1.5 -1.5z" stroke="#2868a0" stroke-width="1" fill="#2868a0" shape-rendering="crispEdges"/>
<polyline points="50,298.7 60,285.8 70,274.1 80,264.8 90,267.4 100,264.3 110,252.3 120,237.4 130,222 140,208.1 150,197.8 160,192.2 170,189.6 180,189.9 190,190.7 200,190.9 210,191.5 220,195.9 230,197.3 240,198.9 250,198.1 260,203.4 270,206 280,207.3 290,208.8 300,213.7 310,214 320,214.1 330,213.5 340,210.5 350,208.5 360,207.5 370,208.5 380,210.5 390,214.5 400,220.5 410,228.5 420,236.5 430,240.5 440,242.5 450,240.5 460,238.5 470,236.5 480,232.5 490,229.5 500,221.5 510,219.5 520,213.5 530,206.5 540,207.5 550,214.5 560,228.5 570,254.5 580,268.5 590,278.5 600,290.5 610,302.5 620,318.5 630,322.5 640,327.5 650,333.5 660,345.5 670,349.9 680,354.1 690,358.9" fill="none" stroke="#80c868" stroke-width="1" stroke-linejoin="round" shape-rendering="crispEdges"/>
<path d="M290 207.3l1.5 1.5l-1.5 1.5l-1.5 -1.5zM300 212.2l1.5 1.5l-1.5 1.5l-1.5 -1.5zM310 212.5l1.5 1.5l-1.5 1.5l-1.5 -1.5zM320 212.6l1.5 1.5l-1.5 1.5l-1.5 -1.5zM330 212l1.5 1.5l-1.5 1.5l-1.5 -1.5zM340 209l1.5 1.5l-1.5 1.5l-1.5 -1.5zM350 207l1.5 1.5l-1.5 1.5l-1.5 -1.5zM360 206l1.5 1.5l-1.5 1.5l-1.5 -1.5zM370 207l1.5 1.5l-1.5 1.5l-1.5 -1.5zM380 209l1.5 1.5l-1.5 1.5l-1.5 -1.5zM390 213l1.5 1.5l-1.5 1.5l-1.5 -1.5zM400 219l1.5 1.5l-1.5 1.5l-1.5 -1.5zM410 227l1.5 1.5l-1.5 1.5l-1.5 -1.5zM420 235l1.5 1.5l-1.5 1.5l-1.5 -1.5zM430 239l1.5 1.5l-1.5 1.5l-1.5 -1.5zM440 241l1.5 1.5l-1.5 1.5l-1.5 -1.5zM450 239l1.5 1.5l-1.5 1.5l-1.5 -1.5zM460 237l1.5 1.5l-1.5 1.5l-1.5 -1.5zM470 235l1.5 1.5l-1.5 1.5l-1.5 -1.5zM480 231l1.5 1.5l-1.5 1.5l-1.5 -1.5zM490 228l1.5 1.5l-1.5 1.5l-1.5 -1.5zM500 220l1.5 1.5l-1.5 1.5l-1.5 -1.5zM510 218l1.5 1.5l-1.5 1.5l-1.5 -1.5zM520 212l1.5 1.5l-1.5 1.5l-1.5 -1.5zM530 205l1.5 1.5l-1.5 1.5l-1.5 -1.5zM540 206l1.5 1.5l-1.5 1.5l-1.5 -1.5zM550 213l1.5 1.5l-1.5 1.5l-1.5 -1.5zM560 227l1.5 1.5l-1.5 1.5l-1.5 -1.5zM570 253l1.5 1.5l-1.5 1.5l-1.5 -1.5zM580 267l1.5 1.5l-1.5 1.5l-1.5 -1.5zM590 277l1.5 1.5l-1.5 1.5l-1.5 -1.5zM600 289l1.5 1.5l-1.5 1.5l-1.5 -1.5zM610 301l1.5 1.5l-1.5 1.5l-1.5 -1.5zM620 317l1.5 1.5l-1.5 1.5l-1.5 -1.5zM630 321l1.5 1.5l-1.5 1.5l-1.5 -1.5zM640 326l1.5 1.5l-1.5 1.5l-1.5 -1.5zM650 332l1.5 1.5l-1.5 1.5l-1.5 -1.5zM660 344l1.5 1.5l-1.5 1.5l-1.5 -1.5zM670 348.4l1.5 1.5l-1.5 1.5l-1.5 -1.5zM680 352.6l1.5 1.5l-1.5 1.5l-1.5 -1.5zM690 357.4l1.5 1.5l-1.5 1.5l-1.5 -1.5z" stroke="#80c868" stroke-width="1" fill="#80c868" shape-rendering="crispEdges"/>
<polyline points="50,301 60,289.2 70,278.2 80,270.4 90,273.3 100,269.1 110,257.3 120,242.8 130,228.2 140,214.6 150,204.5 160,199 170,199.1 180,198.2 190,198.4 200,199.6 210,200 220,204.3 230,205.8 240,206.1 250,208 260,213 270,216.1 280,217.3 290,220.3 300,225.9 310,227.9 320,229.8 330,233.5 340,239.8 350,241.7 360,243 370,246.5 380,252.6 390,257.8 400,264.7 410,269.9 420,273.1 430,274.5 440,277.2 450,278.5 460,280.5 470,280.5 480,280.5 490,285.5 500,292.5 510,294.9 520,294.1 530,305.5 540,322.5 550,309.5 560,295.5 570,285.5 580,275.5 590,268.5 600,262.5 610,252.5 620,243.5 630,230.5 640,217.5 650,209.5 660,207.9 670,218.5 680,237.5 690,254.5" fill="none" stroke="#5a8a10" stroke-width="1" stroke-linejoin="round" shape-rendering="crispEdges"/>
<path d="M290 218.8l1.5 1.5l-1.5 1.5l-1.5 -1.5zM300 224.4l1.5 1.5l-1.5 1.5l-1.5 -1.5zM310 226.4l1.5 1.5l-1.5 1.5l-1.5 -1.5zM320 228.3l1.5 1.5l-1.5 1.5l-1.5 -1.5zM330 232l1.5 1.5l-1.5 1.5l-1.5 -1.5zM340 238.3l1.5 1.5l-1.5 1.5l-1.5 -1.5zM350 240.2l1.5 1.5l-1.5 1.5l-1.5 -1.5zM360 241.5l1.5 1.5l-1.5 1.5l-1.5 -1.5zM370 245l1.5 1.5l-1.5 1.5l-1.5 -1.5zM380 251.1l1.5 1.5l-1.5 1.5l-1.5 -1.5zM390 256.3l1.5 1.5l-1.5 1.5l-1.5 -1.5zM400 263.2l1.5 1.5l-1.5 1.5l-1.5 -1.5zM410 268.4l1.5 1.5l-1.5 1.5l-1.5 -1.5zM420 271.6l1.5 1.5l-1.5 1.5l-1.5 -1.5zM430 273l1.5 1.5l-1.5 1.5l-1.5 -1.5zM440 275.7l1.5 1.5l-1.5 1.5l-1.5 -1.5zM450 277l1.5 1.5l-1.5 1.5l-1.5 -1.5zM460 279l1.5 1.5l-1.5 1.5l-1.5 -1.5zM470 279l1.5 1.5l-1.5 1.5l-1.5 -1.5zM480 279l1.5 1.5l-1.5 1.5l-1.5 -1.5zM490 284l1.5 1.5l-1.5 1.5l-1.5 -1.5zM500 291l1.5 1.5l-1.5 1.5l-1.5 -1.5zM510 293.4l1.5 1.5l-1.5 1.5l-1.5 -1.5zM520 292.6l1.5 1.5l-1.5 1.5l-1.5 -1.5zM530 304l1.5 1.5l-1.5 1.5l-1.5 -1.5zM540 321l1.5 1.5l-1.5 1.5l-1.5 -1.5zM550 308l1.5 1.5l-1.5 1.5l-1.5 -1.5zM560 294l1.5 1.5l-1.5 1.5l-1.5 -1.5zM570 284l1.5 1.5l-1.5 1.5l-1.5 -1.5zM580 274l1.5 1.5l-1.5 1.5l-1.5 -1.5zM590 267l1.5 1.5l-1.5 1.5l-1.5 -1.5zM600 261l1.5 1.5l-1.5 1.5l-1.5 -1.5zM610 251l1.5 1.5l-1.5 1.5l-1.5 -1.5zM620 242l1.5 1.5l-1.5 1.5l-1.5 -1.5zM630 229l1.5 1.5l-1.5 1.5l-1.5 -1.5zM640 216l1.5 1.5l-1.5 1.5l-1.5 -1.5zM650 208l1.5 1.5l-1.5 1.5l-1.5 -1.5zM660 206.4l1.5 1.5l-1.5 1.5l-1.5 -1.5zM670 217l1.5 1.5l-1.5 1.5l-1.5 -1.5zM680 236l1.5 1.5l-1.5 1.5l-1.5 -1.5zM690 253l1.5 1.5l-1.5 1.5l-1.5 -1.5z" stroke="#5a8a10" stroke-width="1" fill="#5a8a10" shape-rendering="crispEdges"/>
<polyline points="50,300.8 60,288.8 70,278 80,272.5 90,280.5 100,274.5 110,260.5 120,242.9 130,226.7 140,214 150,203.7 160,198.3 170,197.8 180,197.2 190,198.1 200,197.7 210,199.3 220,202.6 230,204.7 240,205.3 250,206.4 260,210.7 270,214.2 280,217.2 290,218.8 300,224 310,226.6 320,229 330,232.9 340,238.7 350,239 360,239.3 370,238.5 380,237.5 390,237.5 400,234.5 410,239.5 420,235.5 430,231.5 440,230.5 450,228.1 460,231.5 470,234.5 480,240.5 490,243.5 500,247.5 510,250.5 520,253.5 530,262.5 540,272.5 550,280.5 560,284.5 570,288.5 580,296.5 590,312.5 600,325.5 610,326.5 620,319.5 630,316.9 640,324.5 650,355.5 660,386.9 670,388.1 680,383.5 690,379.5" fill="none" stroke="#a0f040" stroke-width="1" stroke-linejoin="round" shape-rendering="crispEdges"/>
<path d="M49 299.8h2v2h-2zM59 287.8h2v2h-2zM69 277h2v2h-2zM79 271.5h2v2h-2zM89 279.5h2v2h-2zM99 273.5h2v2h-2zM109 259.5h2v2h-2zM119 241.9h2v2h-2zM129 225.7h2v2h-2zM139 213h2v2h-2zM149 202.7h2v2h-2zM159 197.3h2v2h-2zM169 196.8h2v2h-2zM179 196.2h2v2h-2zM189 197.1h2v2h-2zM199 196.7h2v2h-2zM209 198.3h2v2h-2zM219 201.6h2v2h-2zM229 203.7h2v2h-2zM239 204.3h2v2h-2zM249 205.4h2v2h-2zM259 209.7h2v2h-2zM269 213.2h2v2h-2zM279 216.2h2v2h-2zM289 217.8h2v2h-2zM299 223h2v2h-2zM309 225.6h2v2h-2zM319 228h2v2h-2zM329 231.9h2v2h-2zM339 237.7h2v2h-2zM349 238h2v2h-2zM359 238.3h2v2h-2zM369 237.5h2v2h-2zM379 236.5h2v2h-2zM389 236.5h2v2h-2zM399 233.5h2v2h-2zM409 238.5h2v2h-2zM419 234.5h2v2h-2zM429 230.5h2v2h-2zM439 229.5h2v2h-2zM449 227.1h2v2h-2zM459 230.5h2v2h-2zM469 233.5h2v2h-2zM479 239.5h2v2h-2zM489 242.5h2v2h-2zM499 246.5h2v2h-2zM509 249.5h2v2h-2zM519 252.5h2v2h-2zM529 261.5h2v2h-2zM539 271.5h2v2h-2zM549 279.5h2v2h-2zM559 283.5h2v2h-2zM569 287.5h2v2h-2zM579 295.5h2v2h-2zM589 311.5h2v2h-2zM599 324.5h2v2h-2zM609 325.5h2v2h-2zM619 318.5h2v2h-2zM629 315.9h2v2h-2zM639 323.5h2v2h-2zM649 354.5h2v2h-2zM659 385.9h2v2h-2zM669 387.1h2v2h-2zM679 382.5h2v2h-2zM689 378.5h2v2h-2z" stroke="#a0f040" stroke-width="1" fill="#a0f040" shape-rendering="crispEdges"/>
<polyline points="50,302.7 60,291.8 70,281.3 80,273.3 90,277.7 100,273.7 110,262.4 120,247.7 130,231.1 140,218.9 150,210 160,206.1 170,205 180,205 190,205 200,204.5 210,205.5 220,209.6 230,210.8 240,214 250,214.4 260,218.8 270,221.9 280,226.3 290,227.8 300,234 310,236.5 320,240 330,243.7 340,250.6 350,252.6 360,254.2 370,258.9 380,264.5 390,269.4 400,274.1 410,274.8 420,274.8 430,272.5 440,275.6 450,278.5 460,281.2 470,285.5 480,303.5 490,327.5 500,336.9 510,331.5 520,308.5 530,301.5 540,297.5 550,305.5 560,315.5 570,325.5 580,327.5 590,320.5 600,318.5 610,316.5 620,312.5 630,304.5 640,301.5 650,301.5 660,307.5 670,304.5 680,300.5 690,294.5" fill="none" stroke="#e080f0" stroke-width="1" stroke-linejoin="round" shape-rendering="crispEdges"/>
<path d="M289 226.8h2v2h-2zM299 233h2v2h-2zM309 235.5h2v2h-2zM319 239h2v2h-2zM329 242.7h2v2h-2zM339 249.6h2v2h-2zM349 251.6h2v2h-2zM359 253.2h2v2h-2zM369 257.9h2v2h-2zM379 263.5h2v2h-2zM389 268.4h2v2h-2zM399 273.1h2v2h-2zM409 273.8h2v2h-2zM419 273.8h2v2h-2zM429 271.5h2v2h-2zM439 274.6h2v2h-2zM449 277.5h2v2h-2zM459 280.2h2v2h-2zM469 284.5h2v2h-2zM479 302.5h2v2h-2zM489 326.5h2v2h-2zM499 335.9h2v2h-2zM509 330.5h2v2h-2zM519 307.5h2v2h-2zM529 300.5h2v2h-2zM539 296.5h2v2h-2zM549 304.5h2v2h-2zM559 314.5h2v2h-2zM569 324.5h2v2h-2zM579 326.5h2v2h-2zM589 319.5h2v2h-2zM599 317.5h2v2h-2zM609 315.5h2v2h-2zM619 311.5h2v2h-2zM629 303.5h2v2h-2zM639 300.5h2v2h-2zM649 300.5h2v2h-2zM659 306.5h2v2h-2zM669 303.5h2v2h-2zM679 299.5h2v2h-2zM689 293.5h2v2h-2z" stroke="#e080f0" stroke-width="1" fill="#e080f0" shape-rendering="crispEdges"/>
<polyline points="50,297.9 60,284.6 70,272.7 80,263.1 90,265.3 100,261.9 110,250.4 120,234.7 130,220.1 140,206.6 150,195.1 160,189.1 170,186.3 180,187.2 190,187.8 200,187.8 210,189.8 220,192.2 230,193.2 240,195.3 250,195.8 260,200.1 270,202.5 280,202.6 290,202.5 300,204.5 310,205.5 320,208.5 330,212.5 340,216.4 350,220.3 360,223.7 370,228.5 380,233.5 390,236.7 400,241.9 410,246.5 420,250.7 430,253.8 440,257.7 450,262.5 460,265.6 470,267 480,270.9 490,272.5 500,275.3 510,276.6 520,280.1 530,282.5 540,287.4 550,291.2 560,295.2 570,300.5 580,306.3 590,312.5 600,318.5 610,326.5 620,332.5 630,337.5 640,344.5 650,360.5 660,383.5 670,372.9 680,357.5 690,338.5" fill="none" stroke="#d078d0" stroke-width="1" stroke-linejoin="round" shape-rendering="crispEdges"/>
<path d="M290 201l1.5 1.5l-1.5 1.5l-1.5 -1.5zM300 203l1.5 1.5l-1.5 1.5l-1.5 -1.5zM310 204l1.5 1.5l-1.5 1.5l-1.5 -1.5zM320 207l1.5 1.5l-1.5 1.5l-1.5 -1.5zM330 211l1.5 1.5l-1.5 1.5l-1.5 -1.5zM340 214.9l1.5 1.5l-1.5 1.5l-1.5 -1.5zM350 218.8l1.5 1.5l-1.5 1.5l-1.5 -1.5zM360 222.2l1.5 1.5l-1.5 1.5l-1.5 -1.5zM370 227l1.5 1.5l-1.5 1.5l-1.5 -1.5zM380 232l1.5 1.5l-1.5 1.5l-1.5 -1.5zM390 235.2l1.5 1.5l-1.5 1.5l-1.5 -1.5zM400 240.4l1.5 1.5l-1.5 1.5l-1.5 -1.5zM410 245l1.5 1.5l-1.5 1.5l-1.5 -1.5zM420 249.2l1.5 1.5l-1.5 1.5l-1.5 -1.5zM430 252.3l1.5 1.5l-1.5 1.5l-1.5 -1.5zM440 256.2l1.5 1.5l-1.5 1.5l-1.5 -1.5zM450 261l1.5 1.5l-1.5 1.5l-1.5 -1.5zM460 264.1l1.5 1.5l-1.5 1.5l-1.5 -1.5zM470 265.5l1.5 1.5l-1.5 1.5l-1.5 -1.5zM480 269.4l1.5 1.5l-1.5 1.5l-1.5 -1.5zM490 271l1.5 1.5l-1.5 1.5l-1.5 -1.5zM500 273.8l1.5 1.5l-1.5 1.5l-1.5 -1.5zM510 275.1l1.5 1.5l-1.5 1.5l-1.5 -1.5zM520 278.6l1.5 1.5l-1.5 1.5l-1.5 -1.5zM530 281l1.5 1.5l-1.5 1.5l-1.5 -1.5zM540 285.9l1.5 1.5l-1.5 1.5l-1.5 -1.5zM550 289.7l1.5 1.5l-1.5 1.5l-1.5 -1.5zM560 293.7l1.5 1.5l-1.5 1.5l-1.5 -1.5zM570 299l1.5 1.5l-1.5 1.5l-1.5 -1.5zM580 304.8l1.5 1.5l-1.5 1.5l-1.5 -1.5zM590 311l1.5 1.5l-1.5 1.5l-1.5 -1.5zM600 317l1.5 1.5l-1.5 1.5l-1.5 -1.5zM610 325l1.5 1.5l-1.5 1.5l-1.5 -1.5zM620 331l1.5 1.5l-1.5 1.5l-1.5 -1.5zM630 336l1.5 1.5l-1.5 1.5l-1.5 -1.5zM640 343l1.5 1.5l-1.5 1.5l-1.5 -1.5zM650 359l1.5 1.5l-1.5 1.5l-1.5 -1.5zM660 382l1.5 1.5l-1.5 1.5l-1.5 -1.5zM670 371.4l1.5 1.5l-1.5 1.5l-1.5 -1.5zM680 356l1.5 1.5l-1.5 1.5l-1.5 -1.5zM690 337l1.5 1.5l-1.5 1.5l-1.5 -1.5z" stroke="#d078d0" stroke-width="1" fill="#d078d0" shape-rendering="crispEdges"/>
<polyline points="50,303.5 60,293 70,282.9 80,275.7 90,280.5 100,275.5 110,264 120,249.7 130,234.4 140,221.8 150,212.3 160,208.5 170,207.5 180,207.5 190,207.8 200,208.1 210,209 220,216.1 230,216.5 240,217.5 250,215.5 260,222.5 270,226.5 280,229.2 290,233.5 300,235 310,237.7 320,238.4 330,240.5 340,243.1 350,245.7 360,248.7 370,252.5 380,256.2 390,258.2 400,262.5 410,262 420,261.8 430,262.4 440,262.6 450,262.5 460,261.9 470,259.3 480,258.2 490,256.5 500,249.5 510,240.5 520,226.5 530,211.5 540,198.5 550,189.5 560,175.5 570,173.5 580,175.5 590,186.1 600,198.5 610,224.5 620,248.5 630,276.5 640,300.5 650,320.5 660,320.1 670,296.5 680,287.5 690,309.5" fill="none" stroke="#9890e8" stroke-width="1" stroke-linejoin="round" shape-rendering="crispEdges"/>
<path d="M158.5 208.5h3M160 207v3M168.5 207.5h3M170 206v3M178.5 207.5h3M180 206v3M188.5 207.8h3M190 206.3v3M198.5 208.1h3M200 206.6v3M208.5 209h3M210 207.5v3M218.5 216.1h3M220 214.6v3M228.5 216.5h3M230 215v3M238.5 217.5h3M240 216v3M248.5 215.5h3M250 214v3M258.5 222.5h3M260 221v3M268.5 226.5h3M270 225v3M278.5 229.2h3M280 227.7v3M288.5 233.5h3M290 232v3M298.5 235h3M300 233.5v3M308.5 237.7h3M310 236.2v3M318.5 238.4h3M320 236.9v3M328.5 240.5h3M330 239v3M338.5 243.1h3M340 241.6v3M348.5 245.7h3M350 244.2v3M358.5 248.7h3M360 247.2v3M368.5 252.5h3M370 251v3M378.5 256.2h3M380 254.7v3M388.5 258.2h3M390 256.7v3M398.5 262.5h3M400 261v3M408.5 262h3M410 260.5v3M418.5 261.8h3M420 260.3v3M428.5 262.4h3M430 260.9v3M438.5 262.6h3M440 261.1v3M448.5 262.5h3M450 261v3M458.5 261.9h3M460 260.4v3M468.5 259.3h3M470 257.8v3M478.5 258.2h3M480 256.7v3M488.5 256.5h3M490 255v3M498.5 249.5h3M500 248v3M508.5 240.5h3M510 239v3M518.5 226.5h3M520 225v3M528.5 211.5h3M530 210v3M538.5 198.5h3M540 197v3M548.5 189.5h3M550 188v3M558.5 175.5h3M560 174v3M568.5 173.5h3M570 172v3M578.5 175.5h3M580 174v3M588.5 186.1h3M590 184.6v3M598.5 198.5h3M600 197v3M608.5 224.5h3M610 223v3M618.5 248.5h3M620 247v3M628.5 276.5h3M630 275v3M638.5 300.5h3M640 299v3M648.5 320.5h3M650 319v3M658.5 320.1h3M660 318.6v3M668.5 296.5h3M670 295v3M678.5 287.5h3M680 286v3M688.5 309.5h3M690 308v3" stroke="#9890e8" stroke-width="1" fill="none" shape-rendering="crispEdges"/>
<polyline points="50,301.8 60,290.5 70,280.1 80,271.8 90,275.6 100,271.2 110,259.6 120,244.8 130,229.8 140,216.4 150,207.2 160,202.3 170,202.3 180,202 190,202.5 200,201.1 210,201.9 220,206.9 230,207.7 240,209.6 250,211 260,214.9 270,218.8 280,221 290,223.8 300,230.3 310,231.9 320,236.1 330,240.1 340,241.9 350,240.5 360,243.5 370,248.5 380,260.5 390,278.5 400,297.5 410,314.1 420,321.5 430,312.5 440,314.1 450,316.5 460,320.5 470,309.5 480,306.5 490,301.5 500,298.5 510,300.5 520,305.5 530,315.5 540,330.5 550,350.5 560,343.5 570,304.5 580,288.5 590,284.5 600,286.5 610,298.5 620,326.5 630,355.5 640,369.9 650,364.9 660,354.1 670,337.5 680,326.5 690,321.9" fill="none" stroke="#f0c010" stroke-width="1" stroke-linejoin="round" shape-rendering="crispEdges"/>
<path d="M288.8 222.6l2.4 2.4M291.2 222.6l-2.4 2.4M298.8 229.1l2.4 2.4M301.2 229.1l-2.4 2.4M308.8 230.7l2.4 2.4M311.2 230.7l-2.4 2.4M318.8 234.9l2.4 2.4M321.2 234.9l-2.4 2.4M328.8 238.9l2.4 2.4M331.2 238.9l-2.4 2.4M338.8 240.7l2.4 2.4M341.2 240.7l-2.4 2.4M348.8 239.3l2.4 2.4M351.2 239.3l-2.4 2.4M358.8 242.3l2.4 2.4M361.2 242.3l-2.4 2.4M368.8 247.3l2.4 2.4M371.2 247.3l-2.4 2.4M378.8 259.3l2.4 2.4M381.2 259.3l-2.4 2.4M388.8 277.3l2.4 2.4M391.2 277.3l-2.4 2.4M398.8 296.3l2.4 2.4M401.2 296.3l-2.4 2.4M408.8 312.9l2.4 2.4M411.2 312.9l-2.4 2.4M418.8 320.3l2.4 2.4M421.2 320.3l-2.4 2.4M428.8 311.3l2.4 2.4M431.2 311.3l-2.4 2.4M438.8 312.9l2.4 2.4M441.2 312.9l-2.4 2.4M448.8 315.3l2.4 2.4M451.2 315.3l-2.4 2.4M458.8 319.3l2.4 2.4M461.2 319.3l-2.4 2.4M468.8 308.3l2.4 2.4M471.2 308.3l-2.4 2.4M478.8 305.3l2.4 2.4M481.2 305.3l-2.4 2.4M488.8 300.3l2.4 2.4M491.2 300.3l-2.4 2.4M498.8 297.3l2.4 2.4M501.2 297.3l-2.4 2.4M508.8 299.3l2.4 2.4M511.2 299.3l-2.4 2.4M518.8 304.3l2.4 2.4M521.2 304.3l-2.4 2.4M528.8 314.3l2.4 2.4M531.2 314.3l-2.4 2.4M538.8 329.3l2.4 2.4M541.2 329.3l-2.4 2.4M548.8 349.3l2.4 2.4M551.2 349.3l-2.4 2.4M558.8 342.3l2.4 2.4M561.2 342.3l-2.4 2.4M568.8 303.3l2.4 2.4M571.2 303.3l-2.4 2.4M578.8 287.3l2.4 2.4M581.2 287.3l-2.4 2.4M588.8 283.3l2.4 2.4M591.2 283.3l-2.4 2.4M598.8 285.3l2.4 2.4M601.2 285.3l-2.4 2.4M608.8 297.3l2.4 2.4M611.2 297.3l-2.4 2.4M618.8 325.3l2.4 2.4M621.2 325.3l-2.4 2.4M628.8 354.3l2.4 2.4M631.2 354.3l-2.4 2.4M638.8 368.7l2.4 2.4M641.2 368.7l-2.4 2.4M648.8 363.7l2.4 2.4M651.2 363.7l-2.4 2.4M658.8 352.9l2.4 2.4M661.2 352.9l-2.4 2.4M668.8 336.3l2.4 2.4M671.2 336.3l-2.4 2.4M678.8 325.3l2.4 2.4M681.2 325.3l-2.4 2.4M688.8 320.7l2.4 2.4M691.2 320.7l-2.4 2.4" stroke="#f0c010" stroke-width="1" fill="none" shape-rendering="crispEdges"/>
<polyline points="50,301.6 60,290.1 70,279.5 80,271.2 90,275 100,271.3 110,259.2 120,243.7 130,229.8 140,216.1 150,206.8 160,202.2 170,201.5 180,200.1 190,201.3 200,200.6 210,201.8 220,205.8 230,207 240,209 250,209.9 260,215.4 270,220.5 280,224.3 290,227 300,228.5 310,233.5 320,238.5 330,245.5 340,256.5 350,267.5 360,275.5 370,290.5 380,307.5 390,324.9 400,326.9 410,320.1 420,314.9 430,331.5 440,379.5 450,378.5 460,352.5 470,345.5 480,348.9 490,362.1 500,344.5 510,316.5 520,295.5 530,294.5 540,323.5 550,352.5 560,404.1 570,411.5 580,409.5 590,394.1 600,374.5 610,359.5 620,342.5 630,329.5 640,323.5 650,320.5 660,317.5 670,305.5 680,294.5 690,285.5" fill="none" stroke="#f0d010" stroke-width="1" stroke-linejoin="round" shape-rendering="crispEdges"/>
<path d="M289 226h2v2h-2zM299 227.5h2v2h-2zM309 232.5h2v2h-2zM319 237.5h2v2h-2zM329 244.5h2v2h-2zM339 255.5h2v2h-2zM349 266.5h2v2h-2zM359 274.5h2v2h-2zM369 289.5h2v2h-2zM379 306.5h2v2h-2zM389 323.9h2v2h-2zM399 325.9h2v2h-2zM409 319.1h2v2h-2zM419 313.9h2v2h-2zM429 330.5h2v2h-2zM439 378.5h2v2h-2zM449 377.5h2v2h-2zM459 351.5h2v2h-2zM469 344.5h2v2h-2zM479 347.9h2v2h-2zM489 361.1h2v2h-2zM499 343.5h2v2h-2zM509 315.5h2v2h-2zM519 294.5h2v2h-2zM529 293.5h2v2h-2zM539 322.5h2v2h-2zM549 351.5h2v2h-2zM559 403.1h2v2h-2zM569 410.5h2v2h-2zM579 408.5h2v2h-2zM589 393.1h2v2h-2zM599 373.5h2v2h-2zM609 358.5h2v2h-2zM619 341.5h2v2h-2zM629 328.5h2v2h-2zM639 322.5h2v2h-2zM649 319.5h2v2h-2zM659 316.5h2v2h-2zM669 304.5h2v2h-2zM679 293.5h2v2h-2zM689 284.5h2v2h-2z" stroke="#f0d010" stroke-width="1" fill="#f0d010" shape-rendering="crispEdges"/>
<polyline points="50,303.1 60,292.5 70,282.3 80,274.7 90,279 100,274.5 110,263.5 120,248.5 130,232.5 140,220.6 150,211.6 160,207.3 170,206.9 180,207 190,206.2 200,206.4 210,206.9 220,210.6 230,212.2 240,214.3 250,216.4 260,220.6 270,224 280,227 290,229.8 300,237 310,238.4 320,244 330,246.7 340,248.2 350,246.5 360,251.3 370,256.5 380,262.5 390,270.5 400,280.5 410,292.5 420,305.5 430,326.1 440,365.5 450,386.9 460,382.1 470,355.5 480,319.5 490,325.5 500,350.5 510,325.5 520,307.5 530,314.5 540,325.5 550,360.5 560,424.5 570,442.5 580,430.5 590,406.5 600,401.5 610,375.5 620,350.5 630,325.5 640,294.5 650,272.5 660,262.5 670,270.5 680,290.5 690,309.5" fill="none" stroke="#9050b8" stroke-width="1" stroke-linejoin="round" shape-rendering="crispEdges"/>
<path d="M288.5 229.8h3M290 228.3v3M298.5 237h3M300 235.5v3M308.5 238.4h3M310 236.9v3M318.5 244h3M320 242.5v3M328.5 246.7h3M330 245.2v3M338.5 248.2h3M340 246.7v3M348.5 246.5h3M350 245v3M358.5 251.3h3M360 249.8v3M368.5 256.5h3M370 255v3M378.5 262.5h3M380 261v3M388.5 270.5h3M390 269v3M398.5 280.5h3M400 279v3M408.5 292.5h3M410 291v3M418.5 305.5h3M420 304v3M428.5 326.1h3M430 324.6v3M438.5 365.5h3M440 364v3M448.5 386.9h3M450 385.4v3M458.5 382.1h3M460 380.6v3M468.5 355.5h3M470 354v3M478.5 319.5h3M480 318v3M488.5 325.5h3M490 324v3M498.5 350.5h3M500 349v3M508.5 325.5h3M510 324v3M518.5 307.5h3M520 306v3M528.5 314.5h3M530 313v3M538.5 325.5h3M540 324v3M548.5 360.5h3M550 359v3M558.5 424.5h3M560 423v3M568.5 442.5h3M570 441v3M578.5 430.5h3M580 429v3M588.5 406.5h3M590 405v3M598.5 401.5h3M600 400v3M608.5 375.5h3M610 374v3M618.5 350.5h3M620 349v3M628.5 325.5h3M630 324v3M638.5 294.5h3M640 293v3M648.5 272.5h3M650 271v3M658.5 262.5h3M660 261v3M668.5 270.5h3M670 269v3M678.5 290.5h3M680 289v3M688.5 309.5h3M690 308v3" stroke="#9050b8" stroke-width="1" fill="none" shape-rendering="crispEdges"/>
<polyline points="50,301.2 60,289.7 70,278.9 80,270.8 90,274.3 100,270.7 110,257.9 120,244.1 130,228.5 140,215.5 150,205.6 160,200.1 170,199.9 180,198.5 190,199.5 200,199.1 210,201 220,205.3 230,205.5 240,208.3 250,208.6 260,213.7 270,216.9 280,219.1 290,220.8 300,225.9 310,232.3 320,238.4 330,242.7 340,245.5 350,252.5 360,258.5 370,272.5 380,281.5 390,282.5 400,280.5 410,282.5 420,285.5 430,288.5 440,290.5 450,299.5 460,336.9 470,362.9 480,354.5 490,338.5 500,308.5 510,264.5 520,230.5 530,212.5 540,201.5 550,195.5 560,188.5 570,187.5 580,192.5 590,198.5 600,203.5 610,214.5 620,224.5 630,233.5 640,237.5 650,238.5 660,242.5 670,242.9 680,245.5 690,248.5" fill="none" stroke="#1080f0" stroke-width="1" stroke-linejoin="round" shape-rendering="crispEdges"/>
<path d="M288.8 219.6l2.4 2.4M291.2 219.6l-2.4 2.4M298.8 224.7l2.4 2.4M301.2 224.7l-2.4 2.4M308.8 231.1l2.4 2.4M311.2 231.1l-2.4 2.4M318.8 237.2l2.4 2.4M321.2 237.2l-2.4 2.4M328.8 241.5l2.4 2.4M331.2 241.5l-2.4 2.4M338.8 244.3l2.4 2.4M341.2 244.3l-2.4 2.4M348.8 251.3l2.4 2.4M351.2 251.3l-2.4 2.4M358.8 257.3l2.4 2.4M361.2 257.3l-2.4 2.4M368.8 271.3l2.4 2.4M371.2 271.3l-2.4 2.4M378.8 280.3l2.4 2.4M381.2 280.3l-2.4 2.4M388.8 281.3l2.4 2.4M391.2 281.3l-2.4 2.4M398.8 279.3l2.4 2.4M401.2 279.3l-2.4 2.4M408.8 281.3l2.4 2.4M411.2 281.3l-2.4 2.4M418.8 284.3l2.4 2.4M421.2 284.3l-2.4 2.4M428.8 287.3l2.4 2.4M431.2 287.3l-2.4 2.4M438.8 289.3l2.4 2.4M441.2 289.3l-2.4 2.4M448.8 298.3l2.4 2.4M451.2 298.3l-2.4 2.4M458.8 335.7l2.4 2.4M461.2 335.7l-2.4 2.4M468.8 361.7l2.4 2.4M471.2 361.7l-2.4 2.4M478.8 353.3l2.4 2.4M481.2 353.3l-2.4 2.4M488.8 337.3l2.4 2.4M491.2 337.3l-2.4 2.4M498.8 307.3l2.4 2.4M501.2 307.3l-2.4 2.4M508.8 263.3l2.4 2.4M511.2 263.3l-2.4 2.4M518.8 229.3l2.4 2.4M521.2 229.3l-2.4 2.4M528.8 211.3l2.4 2.4M531.2 211.3l-2.4 2.4M538.8 200.3l2.4 2.4M541.2 200.3l-2.4 2.4M548.8 194.3l2.4 2.4M551.2 194.3l-2.4 2.4M558.8 187.3l2.4 2.4M561.2 187.3l-2.4 2.4M568.8 186.3l2.4 2.4M571.2 186.3l-2.4 2.4M578.8 191.3l2.4 2.4M581.2 191.3l-2.4 2.4M588.8 197.3l2.4 2.4M591.2 197.3l-2.4 2.4M598.8 202.3l2.4 2.4M601.2 202.3l-2.4 2.4M608.8 213.3l2.4 2.4M611.2 213.3l-2.4 2.4M618.8 223.3l2.4 2.4M621.2 223.3l-2.4 2.4M628.8 232.3l2.4 2.4M631.2 232.3l-2.4 2.4M638.8 236.3l2.4 2.4M641.2 236.3l-2.4 2.4M648.8 237.3l2.4 2.4M651.2 237.3l-2.4 2.4M658.8 241.3l2.4 2.4M661.2 241.3l-2.4 2.4M668.8 241.7l2.4 2.4M671.2 241.7l-2.4 2.4M678.8 244.3l2.4 2.4M681.2 244.3l-2.4 2.4M688.8 247.3l2.4 2.4M691.2 247.3l-2.4 2.4" stroke="#1080f0" stroke-width="1" fill="none" shape-rendering="crispEdges"/>
<polyline points="50,299.6 60,287 70,275.6 80,266.5 90,269.4 100,266.6 110,254.2 120,238.7 130,223.6 140,210.9 150,200.5 160,195.3 170,192.9 180,193.6 190,194.2 200,193.5 210,194.6 220,198.3 230,200.3 240,201.9 250,201.9 260,205.6 270,209.3 280,211.2 290,212.4 300,221.6 310,226.3 320,229.8 330,232.5 340,238.5 350,243.5 360,248.5 370,252.5 380,258.5 390,264.5 400,270.5 410,277.5 420,283.5 430,289.5 440,293.5 450,294.5 460,305.5 470,302.5 480,303.5 490,328.5 500,392.5 510,374.5 520,308.5 530,285.5 540,240.5 550,216.5 560,208.5 570,208.5 580,214.5 590,220.1 600,221.5 610,223.5 620,227.5 630,221.5 640,221.5 650,220.5 660,221.5 670,219.5 680,219.5 690,220.1" fill="none" stroke="#f06820" stroke-width="1" stroke-linejoin="round" shape-rendering="crispEdges"/>
<path d="M288.5 212.4h3M290 210.9v3M298.5 221.6h3M300 220.1v3M308.5 226.3h3M310 224.8v3M318.5 229.8h3M320 228.3v3M328.5 232.5h3M330 231v3M338.5 238.5h3M340 237v3M348.5 243.5h3M350 242v3M358.5 248.5h3M360 247v3M368.5 252.5h3M370 251v3M378.5 258.5h3M380 257v3M388.5 264.5h3M390 263v3M398.5 270.5h3M400 269v3M408.5 277.5h3M410 276v3M418.5 283.5h3M420 282v3M428.5 289.5h3M430 288v3M438.5 293.5h3M440 292v3M448.5 294.5h3M450 293v3M458.5 305.5h3M460 304v3M468.5 302.5h3M470 301v3M478.5 303.5h3M480 302v3M488.5 328.5h3M490 327v3M498.5 392.5h3M500 391v3M508.5 374.5h3M510 373v3M518.5 308.5h3M520 307v3M528.5 285.5h3M530 284v3M538.5 240.5h3M540 239v3M548.5 216.5h3M550 215v3M558.5 208.5h3M560 207v3M568.5 208.5h3M570 207v3M578.5 214.5h3M580 213v3M588.5 220.1h3M590 218.6v3M598.5 221.5h3M600 220v3M608.5 223.5h3M610 222v3M618.5 227.5h3M620 226v3M628.5 221.5h3M630 220v3M638.5 221.5h3M640 220v3M648.5 220.5h3M650 219v3M658.5 221.5h3M660 220v3M668.5 219.5h3M670 218v3M678.5 219.5h3M680 218v3M688.5 220.1h3M690 218.6v3" stroke="#f06820" stroke-width="1" fill="none" shape-rendering="crispEdges"/>
<polyline points="50,298.1 60,284.9 70,272.9 80,263.7 90,266.3 100,262.7 110,250.5 120,235.6 130,220.2 140,207.5 150,196.5 160,188.9 170,188 180,187.8 190,188.5 200,187.8 210,190.6 220,193.6 230,194.5 240,196.2 250,195.6 260,202.8 270,205.3 280,207.4 290,208.5 300,210.5 310,209.5 320,207.5 330,206.5 340,205.5 350,202.9 360,202.9 370,204.5 380,209.5 390,213.5 400,219.5 410,224.5 420,240.5 430,258.5 440,262.5 450,256.5 460,252.5 470,250.5 480,248.5 490,247.5 500,246.5 510,248.5 520,240.5 530,246.5 540,249.5 550,247.5 560,244.5 570,237.5 580,234.5 590,223.5 600,219.5 610,216.9 620,219.5 630,222.5 640,228.5 650,235.5 660,243.5 670,248.5 680,252.9 690,258.9" fill="none" stroke="#10d858" stroke-width="1" stroke-linejoin="round" shape-rendering="crispEdges"/>
<path d="M290 207l1.5 1.5l-1.5 1.5l-1.5 -1.5zM300 209l1.5 1.5l-1.5 1.5l-1.5 -1.5zM310 208l1.5 1.5l-1.5 1.5l-1.5 -1.5zM320 206l1.5 1.5l-1.5 1.5l-1.5 -1.5zM330 205l1.5 1.5l-1.5 1.5l-1.5 -1.5zM340 204l1.5 1.5l-1.5 1.5l-1.5 -1.5zM350 201.4l1.5 1.5l-1.5 1.5l-1.5 -1.5zM360 201.4l1.5 1.5l-1.5 1.5l-1.5 -1.5zM370 203l1.5 1.5l-1.5 1.5l-1.5 -1.5zM380 208l1.5 1.5l-1.5 1.5l-1.5 -1.5zM390 212l1.5 1.5l-1.5 1.5l-1.5 -1.5zM400 218l1.5 1.5l-1.5 1.5l-1.5 -1.5zM410 223l1.5 1.5l-1.5 1.5l-1.5 -1.5zM420 239l1.5 1.5l-1.5 1.5l-1.5 -1.5zM430 257l1.5 1.5l-1.5 1.5l-1.5 -1.5zM440 261l1.5 1.5l-1.5 1.5l-1.5 -1.5zM450 255l1.5 1.5l-1.5 1.5l-1.5 -1.5zM460 251l1.5 1.5l-1.5 1.5l-1.5 -1.5zM470 249l1.5 1.5l-1.5 1.5l-1.5 -1.5zM480 247l1.5 1.5l-1.5 1.5l-1.5 -1.5zM490 246l1.5 1.5l-1.5 1.5l-1.5 -1.5zM500 245l1.5 1.5l-1.5 1.5l-1.5 -1.5zM510 247l1.5 1.5l-1.5 1.5l-1.5 -1.5zM520 239l1.5 1.5l-1.5 1.5l-1.5 -1.5zM530 245l1.5 1.5l-1.5 1.5l-1.5 -1.5zM540 248l1.5 1.5l-1.5 1.5l-1.5 -1.5zM550 246l1.5 1.5l-1.5 1.5l-1.5 -1.5zM560 243l1.5 1.5l-1.5 1.5l-1.5 -1.5zM570 236l1.5 1.5l-1.5 1.5l-1.5 -1.5zM580 233l1.5 1.5l-1.5 1.5l-1.5 -1.5zM590 222l1.5 1.5l-1.5 1.5l-1.5 -1.5zM600 218l1.5 1.5l-1.5 1.5l-1.5 -1.5zM610 215.4l1.5 1.5l-1.5 1.5l-1.5 -1.5zM620 218l1.5 1.5l-1.5 1.5l-1.5 -1.5zM630 221l1.5 1.5l-1.5 1.5l-1.5 -1.5zM640 227l1.5 1.5l-1.5 1.5l-1.5 -1.5zM650 234l1.5 1.5l-1.5 1.5l-1.5 -1.5zM660 242l1.5 1.5l-1.5 1.5l-1.5 -1.5zM670 247l1.5 1.5l-1.5 1.5l-1.5 -1.5zM680 251.4l1.5 1.5l-1.5 1.5l-1.5 -1.5zM690 257.4l1.5 1.5l-1.5 1.5l-1.5 -1.5z" stroke="#10d858" stroke-width="1" fill="#10d858" shape-rendering="crispEdges"/>
<polyline points="50,302.1 60,290.9 70,280.5 80,272.4 90,276.5 100,272.1 110,260.8 120,244.9 130,230.4 140,218 150,207.7 160,203.7 170,201.8 180,202.8 190,203.1 200,203 210,203.3 220,207 230,209 240,211 250,212.3 260,217.3 270,220 280,222.6 290,223.1 300,222.3 310,219 320,214.5 330,209.5 340,218.5 350,213.5 360,211.5 370,208.5 380,210.5 390,212.5 400,218.5 410,226.5 420,232.5 430,225.5 440,224.1 450,232.5 460,242.5 470,250.5 480,246.5 490,251.5 500,239.5 510,235.5 520,236.1 530,242.5 540,250.5 550,256.5 560,262.5 570,267.5 580,237.5 590,218.5 600,206.9 610,200.5 620,195.5 630,189.5 640,186.5 650,188.5 660,192.5 670,196.1 680,199.5 690,204.9" fill="none" stroke="#8020f0" stroke-width="1" stroke-linejoin="round" shape-rendering="crispEdges"/>
<path d="M290 221.6l1.5 1.5l-1.5 1.5l-1.5 -1.5zM300 220.8l1.5 1.5l-1.5 1.5l-1.5 -1.5zM310 217.5l1.5 1.5l-1.5 1.5l-1.5 -1.5zM320 213l1.5 1.5l-1.5 1.5l-1.5 -1.5zM330 208l1.5 1.5l-1.5 1.5l-1.5 -1.5zM340 217l1.5 1.5l-1.5 1.5l-1.5 -1.5zM350 212l1.5 1.5l-1.5 1.5l-1.5 -1.5zM360 210l1.5 1.5l-1.5 1.5l-1.5 -1.5zM370 207l1.5 1.5l-1.5 1.5l-1.5 -1.5zM380 209l1.5 1.5l-1.5 1.5l-1.5 -1.5zM390 211l1.5 1.5l-1.5 1.5l-1.5 -1.5zM400 217l1.5 1.5l-1.5 1.5l-1.5 -1.5zM410 225l1.5 1.5l-1.5 1.5l-1.5 -1.5zM420 231l1.5 1.5l-1.5 1.5l-1.5 -1.5zM430 224l1.5 1.5l-1.5 1.5l-1.5 -1.5zM440 222.6l1.5 1.5l-1.5 1.5l-1.5 -1.5zM450 231l1.5 1.5l-1.5 1.5l-1.5 -1.5zM460 241l1.5 1.5l-1.5 1.5l-1.5 -1.5zM470 249l1.5 1.5l-1.5 1.5l-1.5 -1.5zM480 245l1.5 1.5l-1.5 1.5l-1.5 -1.5zM490 250l1.5 1.5l-1.5 1.5l-1.5 -1.5zM500 238l1.5 1.5l-1.5 1.5l-1.5 -1.5zM510 234l1.5 1.5l-1.5 1.5l-1.5 -1.5zM520 234.6l1.5 1.5l-1.5 1.5l-1.5 -1.5zM530 241l1.5 1.5l-1.5 1.5l-1.5 -1.5zM540 249l1.5 1.5l-1.5 1.5l-1.5 -1.5zM550 255l1.5 1.5l-1.5 1.5l-1.5 -1.5zM560 261l1.5 1.5l-1.5 1.5l-1.5 -1.5zM570 266l1.5 1.5l-1.5 1.5l-1.5 -1.5zM580 236l1.5 1.5l-1.5 1.5l-1.5 -1.5zM590 217l1.5 1.5l-1.5 1.5l-1.5 -1.5zM600 205.4l1.5 1.5l-1.5 1.5l-1.5 -1.5zM610 199l1.5 1.5l-1.5 1.5l-1.5 -1.5zM620 194l1.5 1.5l-1.5 1.5l-1.5 -1.5zM630 188l1.5 1.5l-1.5 1.5l-1.5 -1.5zM640 185l1.5 1.5l-1.5 1.5l-1.5 -1.5zM650 187l1.5 1.5l-1.5 1.5l-1.5 -1.5zM660 191l1.5 1.5l-1.5 1.5l-1.5 -1.5zM670 194.6l1.5 1.5l-1.5 1.5l-1.5 -1.5zM680 198l1.5 1.5l-1.5 1.5l-1.5 -1.5zM690 203.4l1.5 1.5l-1.5 1.5l-1.5 -1.5z" stroke="#8020f0" stroke-width="1" fill="#8020f0" shape-rendering="crispEdges"/>
<polyline points="50,302.9 60,292 70,282 80,274 90,279 100,275.1 110,262 120,247.9 130,232.1 140,219.6 150,210.3 160,205.8 170,205 180,205.8 190,205.5 200,205.4 210,205.5 220,212.5 230,215.5 240,219.5 250,223.5 260,227.5 270,231.5 280,234.9 290,236.5 300,238.5 310,239.5 320,240.5 330,241.5 340,247.5 350,252.5 360,256.5 370,262.5 380,268.5 390,272.5 400,278.5 410,284.5 420,288.5 430,292.5 440,304.9 450,317.5 460,321.5 470,315.5 480,308.5 490,300.5 500,296.5 510,300.5 520,305.5 530,320.5 540,349.5 550,339.5 560,337.5 570,358.5 580,411.5 590,430.5 600,437.5 610,422.5 620,401.5 630,393.5 640,388.5 650,381.9 660,384.1 670,406.5 680,394.5 690,382.1" fill="none" stroke="#806030" stroke-width="1" stroke-linejoin="round" shape-rendering="crispEdges"/>
<path d="M208.8 204.3l2.4 2.4M211.2 204.3l-2.4 2.4M218.8 211.3l2.4 2.4M221.2 211.3l-2.4 2.4M228.8 214.3l2.4 2.4M231.2 214.3l-2.4 2.4M238.8 218.3l2.4 2.4M241.2 218.3l-2.4 2.4M248.8 222.3l2.4 2.4M251.2 222.3l-2.4 2.4M258.8 226.3l2.4 2.4M261.2 226.3l-2.4 2.4M268.8 230.3l2.4 2.4M271.2 230.3l-2.4 2.4M278.8 233.7l2.4 2.4M281.2 233.7l-2.4 2.4M288.8 235.3l2.4 2.4M291.2 235.3l-2.4 2.4M298.8 237.3l2.4 2.4M301.2 237.3l-2.4 2.4M308.8 238.3l2.4 2.4M311.2 238.3l-2.4 2.4M318.8 239.3l2.4 2.4M321.2 239.3l-2.4 2.4M328.8 240.3l2.4 2.4M331.2 240.3l-2.4 2.4M338.8 246.3l2.4 2.4M341.2 246.3l-2.4 2.4M348.8 251.3l2.4 2.4M351.2 251.3l-2.4 2.4M358.8 255.3l2.4 2.4M361.2 255.3l-2.4 2.4M368.8 261.3l2.4 2.4M371.2 261.3l-2.4 2.4M378.8 267.3l2.4 2.4M381.2 267.3l-2.4 2.4M388.8 271.3l2.4 2.4M391.2 271.3l-2.4 2.4M398.8 277.3l2.4 2.4M401.2 277.3l-2.4 2.4M408.8 283.3l2.4 2.4M411.2 283.3l-2.4 2.4M418.8 287.3l2.4 2.4M421.2 287.3l-2.4 2.4M428.8 291.3l2.4 2.4M431.2 291.3l-2.4 2.4M438.8 303.7l2.4 2.4M441.2 303.7l-2.4 2.4M448.8 316.3l2.4 2.4M451.2 316.3l-2.4 2.4M458.8 320.3l2.4 2.4M461.2 320.3l-2.4 2.4M468.8 314.3l2.4 2.4M471.2 314.3l-2.4 2.4M478.8 307.3l2.4 2.4M481.2 307.3l-2.4 2.4M488.8 299.3l2.4 2.4M491.2 299.3l-2.4 2.4M498.8 295.3l2.4 2.4M501.2 295.3l-2.4 2.4M508.8 299.3l2.4 2.4M511.2 299.3l-2.4 2.4M518.8 304.3l2.4 2.4M521.2 304.3l-2.4 2.4M528.8 319.3l2.4 2.4M531.2 319.3l-2.4 2.4M538.8 348.3l2.4 2.4M541.2 348.3l-2.4 2.4M548.8 338.3l2.4 2.4M551.2 338.3l-2.4 2.4M558.8 336.3l2.4 2.4M561.2 336.3l-2.4 2.4M568.8 357.3l2.4 2.4M571.2 357.3l-2.4 2.4M578.8 410.3l2.4 2.4M581.2 410.3l-2.4 2.4M588.8 429.3l2.4 2.4M591.2 429.3l-2.4 2.4M598.8 436.3l2.4 2.4M601.2 436.3l-2.4 2.4M608.8 421.3l2.4 2.4M611.2 421.3l-2.4 2.4M618.8 400.3l2.4 2.4M621.2 400.3l-2.4 2.4M628.8 392.3l2.4 2.4M631.2 392.3l-2.4 2.4M638.8 387.3l2.4 2.4M641.2 387.3l-2.4 2.4M648.8 380.7l2.4 2.4M651.2 380.7l-2.4 2.4M658.8 382.9l2.4 2.4M661.2 382.9l-2.4 2.4M668.8 405.3l2.4 2.4M671.2 405.3l-2.4 2.4M678.8 393.3l2.4 2.4M681.2 393.3l-2.4 2.4M688.8 380.9l2.4 2.4M691.2 380.9l-2.4 2.4" stroke="#806030" stroke-width="1" fill="none" shape-rendering="crispEdges"/>
<polyline points="50,300.2 60,288 70,276.9 80,268 90,271.6 100,267.9 110,255.5 120,240.8 130,225.4 140,212.4 150,202.4 160,196.7 170,194.6 180,195.7 190,195.3 200,195.9 210,196.3 220,200.5 230,202.8 240,203.7 250,208 260,213.3 270,216.8 280,218.5 290,222.5 300,236.5 310,247.5 320,258.5 330,274.5 340,292.5 350,293.5 360,290.5 370,282.5 380,274.5 390,266.5 400,268.5 410,280.5 420,292.5 430,300.5 440,305.5 450,308.5 460,310.5 470,311.5 480,308.5 490,305.5 500,302.5 510,303.5 520,306.5 530,310.5 540,313.5 550,315.5 560,315.5 570,314.5 580,314.5 590,313.5 600,313.5 610,310.5 620,307.5 630,299.5 640,294.5 650,293.5 660,292.5 670,284.5 680,276.5 690,276.1" fill="none" stroke="#300870" stroke-width="1" stroke-linejoin="round" shape-rendering="crispEdges"/>
<path d="M268.5 216.8h3M270 215.3v3M278.5 218.5h3M280 217v3M288.5 222.5h3M290 221v3M298.5 236.5h3M300 235v3M308.5 247.5h3M310 246v3M318.5 258.5h3M320 257v3M328.5 274.5h3M330 273v3M338.5 292.5h3M340 291v3M348.5 293.5h3M350 292v3M358.5 290.5h3M360 289v3M368.5 282.5h3M370 281v3M378.5 274.5h3M380 273v3M388.5 266.5h3M390 265v3M398.5 268.5h3M400 267v3M408.5 280.5h3M410 279v3M418.5 292.5h3M420 291v3M428.5 300.5h3M430 299v3M438.5 305.5h3M440 304v3M448.5 308.5h3M450 307v3M458.5 310.5h3M460 309v3M468.5 311.5h3M470 310v3M478.5 308.5h3M480 307v3M488.5 305.5h3M490 304v3M498.5 302.5h3M500 301v3M508.5 303.5h3M510 302v3M518.5 306.5h3M520 305v3M528.5 310.5h3M530 309v3M538.5 313.5h3M540 312v3M548.5 315.5h3M550 314v3M558.5 315.5h3M560 314v3M568.5 314.5h3M570 313v3M578.5 314.5h3M580 313v3M588.5 313.5h3M590 312v3M598.5 313.5h3M600 312v3M608.5 310.5h3M610 309v3M618.5 307.5h3M620 306v3M628.5 299.5h3M630 298v3M638.5 294.5h3M640 293v3M648.5 293.5h3M650 292v3M658.5 292.5h3M660 291v3M668.5 284.5h3M670 283v3M678.5 276.5h3M680 275v3M688.5 276.1h3M690 274.6v3" stroke="#300870" stroke-width="1" fill="none" shape-rendering="crispEdges"/>
<polyline points="50,299.2 60,286.5 70,273.5 80,262.9 90,266.5 100,264.5 110,253.5 120,238.6 130,222.9 140,209.8 150,198.8 160,194 170,191 180,192.1 190,192.2 200,192.6 210,192.9 220,197.7 230,197.9 240,199.4 250,200.7 260,211.8 270,220.1 280,226.7 290,232.5 300,244.5 310,256.5 320,263.5 330,270.5 340,273.5 350,258.5 360,248.5 370,244.5 380,240.5 390,233.5 400,226.5 410,220.5 420,217.9 430,208.5 440,197.5 450,190.5 460,186.9 470,184.9 480,184.1 490,187.5 500,197 510,201.5 520,198.9 530,198.5 540,193.5 550,186.5 560,178.5 570,174.1 580,174.9 590,172.9 600,169.5 610,170.5 620,172.9 630,172.1 640,178.1 650,184.9 660,196.5 670,202.5 680,208.5 690,214.1" fill="none" stroke="#905820" stroke-width="1" stroke-linejoin="round" shape-rendering="crispEdges"/>
<path d="M48.8 298l2.4 2.4M51.2 298l-2.4 2.4M58.8 285.3l2.4 2.4M61.2 285.3l-2.4 2.4M68.8 272.3l2.4 2.4M71.2 272.3l-2.4 2.4M78.8 261.7l2.4 2.4M81.2 261.7l-2.4 2.4M88.8 265.3l2.4 2.4M91.2 265.3l-2.4 2.4M98.8 263.3l2.4 2.4M101.2 263.3l-2.4 2.4M108.8 252.3l2.4 2.4M111.2 252.3l-2.4 2.4M118.8 237.4l2.4 2.4M121.2 237.4l-2.4 2.4M128.8 221.7l2.4 2.4M131.2 221.7l-2.4 2.4M138.8 208.6l2.4 2.4M141.2 208.6l-2.4 2.4M148.8 197.6l2.4 2.4M151.2 197.6l-2.4 2.4M158.8 192.8l2.4 2.4M161.2 192.8l-2.4 2.4M168.8 189.8l2.4 2.4M171.2 189.8l-2.4 2.4M178.8 190.9l2.4 2.4M181.2 190.9l-2.4 2.4M188.8 191l2.4 2.4M191.2 191l-2.4 2.4M198.8 191.4l2.4 2.4M201.2 191.4l-2.4 2.4M208.8 191.7l2.4 2.4M211.2 191.7l-2.4 2.4M218.8 196.5l2.4 2.4M221.2 196.5l-2.4 2.4M228.8 196.7l2.4 2.4M231.2 196.7l-2.4 2.4M238.8 198.2l2.4 2.4M241.2 198.2l-2.4 2.4M248.8 199.5l2.4 2.4M251.2 199.5l-2.4 2.4M258.8 210.6l2.4 2.4M261.2 210.6l-2.4 2.4M268.8 218.9l2.4 2.4M271.2 218.9l-2.4 2.4M278.8 225.5l2.4 2.4M281.2 225.5l-2.4 2.4M288.8 231.3l2.4 2.4M291.2 231.3l-2.4 2.4M298.8 243.3l2.4 2.4M301.2 243.3l-2.4 2.4M308.8 255.3l2.4 2.4M311.2 255.3l-2.4 2.4M318.8 262.3l2.4 2.4M321.2 262.3l-2.4 2.4M328.8 269.3l2.4 2.4M331.2 269.3l-2.4 2.4M338.8 272.3l2.4 2.4M341.2 272.3l-2.4 2.4M348.8 257.3l2.4 2.4M351.2 257.3l-2.4 2.4M358.8 247.3l2.4 2.4M361.2 247.3l-2.4 2.4M368.8 243.3l2.4 2.4M371.2 243.3l-2.4 2.4M378.8 239.3l2.4 2.4M381.2 239.3l-2.4 2.4M388.8 232.3l2.4 2.4M391.2 232.3l-2.4 2.4M398.8 225.3l2.4 2.4M401.2 225.3l-2.4 2.4M408.8 219.3l2.4 2.4M411.2 219.3l-2.4 2.4M418.8 216.7l2.4 2.4M421.2 216.7l-2.4 2.4M428.8 207.3l2.4 2.4M431.2 207.3l-2.4 2.4M438.8 196.3l2.4 2.4M441.2 196.3l-2.4 2.4M448.8 189.3l2.4 2.4M451.2 189.3l-2.4 2.4M458.8 185.7l2.4 2.4M461.2 185.7l-2.4 2.4M468.8 183.7l2.4 2.4M471.2 183.7l-2.4 2.4M478.8 182.9l2.4 2.4M481.2 182.9l-2.4 2.4M488.8 186.3l2.4 2.4M491.2 186.3l-2.4 2.4M498.8 195.8l2.4 2.4M501.2 195.8l-2.4 2.4M508.8 200.3l2.4 2.4M511.2 200.3l-2.4 2.4M518.8 197.7l2.4 2.4M521.2 197.7l-2.4 2.4M528.8 197.3l2.4 2.4M531.2 197.3l-2.4 2.4M538.8 192.3l2.4 2.4M541.2 192.3l-2.4 2.4M548.8 185.3l2.4 2.4M551.2 185.3l-2.4 2.4M558.8 177.3l2.4 2.4M561.2 177.3l-2.4 2.4M568.8 172.9l2.4 2.4M571.2 172.9l-2.4 2.4M578.8 173.7l2.4 2.4M581.2 173.7l-2.4 2.4M588.8 171.7l2.4 2.4M591.2 171.7l-2.4 2.4M598.8 168.3l2.4 2.4M601.2 168.3l-2.4 2.4M608.8 169.3l2.4 2.4M611.2 169.3l-2.4 2.4M618.8 171.7l2.4 2.4M621.2 171.7l-2.4 2.4M628.8 170.9l2.4 2.4M631.2 170.9l-2.4 2.4M638.8 176.9l2.4 2.4M641.2 176.9l-2.4 2.4M648.8 183.7l2.4 2.4M651.2 183.7l-2.4 2.4M658.8 195.3l2.4 2.4M661.2 195.3l-2.4 2.4M668.8 201.3l2.4 2.4M671.2 201.3l-2.4 2.4M678.8 207.3l2.4 2.4M681.2 207.3l-2.4 2.4M688.8 212.9l2.4 2.4M691.2 212.9l-2.4 2.4" stroke="#905820" stroke-width="1" fill="none" shape-rendering="crispEdges"/>
<polyline points="50,297.7 60,284.4 70,272.4 80,263.2 90,265 100,261.5 110,248.7 120,234.7 130,219.8 140,206.6 150,195.2 160,187.4 170,186.3 180,185.1 190,186.8 200,186.8 210,189.1 220,193.2 230,194 240,194.6 250,194.9 260,195.5 270,195.5 280,196.5 290,196.5 300,200.1 310,200.9 320,203.5 330,207.5 340,215.5 350,222.5 360,227.5 370,235.5 380,244.5 390,252.5 400,262.5 410,278.5 420,298.5 430,306.5 440,311.5 450,316.1 460,318.5 470,314.5 480,309.5 490,304.5 500,298.5 510,296.5 520,295.5 530,296.5 540,296.5 550,295.5 560,296.5 570,297.5 580,333.5 590,364.5 600,371.5 610,358.5 620,335.5 630,308.5 640,285.5 650,268.5 660,258.5 670,247.5 680,247.5 690,259.5" fill="none" stroke="#2008a0" stroke-width="1" stroke-linejoin="round" shape-rendering="crispEdges"/>
<path d="M128.8 218.6l2.4 2.4M131.2 218.6l-2.4 2.4M138.8 205.4l2.4 2.4M141.2 205.4l-2.4 2.4M148.8 194l2.4 2.4M151.2 194l-2.4 2.4M158.8 186.2l2.4 2.4M161.2 186.2l-2.4 2.4M168.8 185.1l2.4 2.4M171.2 185.1l-2.4 2.4M178.8 183.9l2.4 2.4M181.2 183.9l-2.4 2.4M188.8 185.6l2.4 2.4M191.2 185.6l-2.4 2.4M198.8 185.6l2.4 2.4M201.2 185.6l-2.4 2.4M208.8 187.9l2.4 2.4M211.2 187.9l-2.4 2.4M218.8 192l2.4 2.4M221.2 192l-2.4 2.4M228.8 192.8l2.4 2.4M231.2 192.8l-2.4 2.4M238.8 193.4l2.4 2.4M241.2 193.4l-2.4 2.4M248.8 193.7l2.4 2.4M251.2 193.7l-2.4 2.4M258.8 194.3l2.4 2.4M261.2 194.3l-2.4 2.4M268.8 194.3l2.4 2.4M271.2 194.3l-2.4 2.4M278.8 195.3l2.4 2.4M281.2 195.3l-2.4 2.4M288.8 195.3l2.4 2.4M291.2 195.3l-2.4 2.4M298.8 198.9l2.4 2.4M301.2 198.9l-2.4 2.4M308.8 199.7l2.4 2.4M311.2 199.7l-2.4 2.4M318.8 202.3l2.4 2.4M321.2 202.3l-2.4 2.4M328.8 206.3l2.4 2.4M331.2 206.3l-2.4 2.4M338.8 214.3l2.4 2.4M341.2 214.3l-2.4 2.4M348.8 221.3l2.4 2.4M351.2 221.3l-2.4 2.4M358.8 226.3l2.4 2.4M361.2 226.3l-2.4 2.4M368.8 234.3l2.4 2.4M371.2 234.3l-2.4 2.4M378.8 243.3l2.4 2.4M381.2 243.3l-2.4 2.4M388.8 251.3l2.4 2.4M391.2 251.3l-2.4 2.4M398.8 261.3l2.4 2.4M401.2 261.3l-2.4 2.4M408.8 277.3l2.4 2.4M411.2 277.3l-2.4 2.4M418.8 297.3l2.4 2.4M421.2 297.3l-2.4 2.4M428.8 305.3l2.4 2.4M431.2 305.3l-2.4 2.4M438.8 310.3l2.4 2.4M441.2 310.3l-2.4 2.4M448.8 314.9l2.4 2.4M451.2 314.9l-2.4 2.4M458.8 317.3l2.4 2.4M461.2 317.3l-2.4 2.4M468.8 313.3l2.4 2.4M471.2 313.3l-2.4 2.4M478.8 308.3l2.4 2.4M481.2 308.3l-2.4 2.4M488.8 303.3l2.4 2.4M491.2 303.3l-2.4 2.4M498.8 297.3l2.4 2.4M501.2 297.3l-2.4 2.4M508.8 295.3l2.4 2.4M511.2 295.3l-2.4 2.4M518.8 294.3l2.4 2.4M521.2 294.3l-2.4 2.4M528.8 295.3l2.4 2.4M531.2 295.3l-2.4 2.4M538.8 295.3l2.4 2.4M541.2 295.3l-2.4 2.4M548.8 294.3l2.4 2.4M551.2 294.3l-2.4 2.4M558.8 295.3l2.4 2.4M561.2 295.3l-2.4 2.4M568.8 296.3l2.4 2.4M571.2 296.3l-2.4 2.4M578.8 332.3l2.4 2.4M581.2 332.3l-2.4 2.4M588.8 363.3l2.4 2.4M591.2 363.3l-2.4 2.4M598.8 370.3l2.4 2.4M601.2 370.3l-2.4 2.4M608.8 357.3l2.4 2.4M611.2 357.3l-2.4 2.4M618.8 334.3l2.4 2.4M621.2 334.3l-2.4 2.4M628.8 307.3l2.4 2.4M631.2 307.3l-2.4 2.4M638.8 284.3l2.4 2.4M641.2 284.3l-2.4 2.4M648.8 267.3l2.4 2.4M651.2 267.3l-2.4 2.4M658.8 257.3l2.4 2.4M661.2 257.3l-2.4 2.4M668.8 246.3l2.4 2.4M671.2 246.3l-2.4 2.4M678.8 246.3l2.4 2.4M681.2 246.3l-2.4 2.4M688.8 258.3l2.4 2.4M691.2 258.3l-2.4 2.4" stroke="#2008a0" stroke-width="1" fill="none" shape-rendering="crispEdges"/>
<polyline points="50,303.3 60,292.7 70,282.7 80,274.8 90,280 100,275.4 110,263.6 120,249 130,232.7 140,220.3 150,212.3 160,207.9 170,207.9 180,207.2 190,206.7 200,205.9 210,205.5 220,208.5 230,210.5 240,213.5 250,216.5 260,225.5 270,236.5 280,244.5 290,246.5 300,249.5 310,250.5 320,252.5 330,253.5 340,258.5 350,257.5 360,253.5 370,250.5 380,248.5 390,244.5 400,240.5 410,238.5 420,232.5 430,225.5 440,220.5 450,224.5 460,229.5 470,228.5 480,229.5 490,220.5 500,204.5 510,188.5 520,180.5 530,182.5 540,185.5 550,182.5 560,183.5 570,186.5 580,199.5 590,214.5 600,228.5 610,238.5 620,252.5 630,252.9 640,237.5 650,228.5 660,223.5 670,216.5 680,207.5 690,198.5" fill="none" stroke="#e0c8a0" stroke-width="1" stroke-linejoin="round" shape-rendering="crispEdges"/>
<path d="M208.5 205.5h3M210 204v3M218.5 208.5h3M220 207v3M228.5 210.5h3M230 209v3M238.5 213.5h3M240 212v3M248.5 216.5h3M250 215v3M258.5 225.5h3M260 224v3M268.5 236.5h3M270 235v3M278.5 244.5h3M280 243v3M288.5 246.5h3M290 245v3M298.5 249.5h3M300 248v3M308.5 250.5h3M310 249v3M318.5 252.5h3M320 251v3M328.5 253.5h3M330 252v3M338.5 258.5h3M340 257v3M348.5 257.5h3M350 256v3M358.5 253.5h3M360 252v3M368.5 250.5h3M370 249v3M378.5 248.5h3M380 247v3M388.5 244.5h3M390 243v3M398.5 240.5h3M400 239v3M408.5 238.5h3M410 237v3M418.5 232.5h3M420 231v3M428.5 225.5h3M430 224v3M438.5 220.5h3M440 219v3M448.5 224.5h3M450 223v3M458.5 229.5h3M460 228v3M468.5 228.5h3M470 227v3M478.5 229.5h3M480 228v3M488.5 220.5h3M490 219v3M498.5 204.5h3M500 203v3M508.5 188.5h3M510 187v3M518.5 180.5h3M520 179v3M528.5 182.5h3M530 181v3M538.5 185.5h3M540 184v3M548.5 182.5h3M550 181v3M558.5 183.5h3M560 182v3M568.5 186.5h3M570 185v3M578.5 199.5h3M580 198v3M588.5 214.5h3M590 213v3M598.5 228.5h3M600 227v3M608.5 238.5h3M610 237v3M618.5 252.5h3M620 251v3M628.5 252.9h3M630 251.4v3M638.5 237.5h3M640 236v3M648.5 228.5h3M650 227v3M658.5 223.5h3M660 222v3M668.5 216.5h3M670 215v3M678.5 207.5h3M680 206v3M688.5 198.5h3M690 197v3" stroke="#e0c8a0" stroke-width="1" fill="none" shape-rendering="crispEdges"/>
<polyline points="50,302.5 60,291.5 70,281.1 80,273.4 90,277.4 100,273.9 110,261.9 120,247 130,231 140,218.5 150,209.9 160,205.5 170,203.7 180,203.7 190,204.4 200,204.1 210,204.5 220,209.9 230,211 240,211.1 250,210.5 260,216.5 270,222.5 280,227.5 290,233.5 300,244.5 310,256.5 320,263.5 330,276.5 340,283.5 350,286.9 360,284.5 370,280.5 380,277.5 390,277.1 400,277.1 410,278.5 420,278.5 430,274.9 440,271.5 450,268.5 460,266.1 470,263.5 480,260.5 490,258.5 500,258.5 510,254.5 520,254.5 530,260.5 540,272.5 550,262.5 560,248.5 570,242.5 580,244.5 590,248.5 600,262.5 610,270.5 620,274.1 630,259.5 640,251.5 650,249.9 660,250.9 670,242.5 680,238.9 690,238.9" fill="none" stroke="#880810" stroke-width="1" stroke-linejoin="round" shape-rendering="crispEdges"/>
<path d="M249 209.5h2v2h-2zM259 215.5h2v2h-2zM269 221.5h2v2h-2zM279 226.5h2v2h-2zM289 232.5h2v2h-2zM299 243.5h2v2h-2zM309 255.5h2v2h-2zM319 262.5h2v2h-2zM329 275.5h2v2h-2zM339 282.5h2v2h-2zM349 285.9h2v2h-2zM359 283.5h2v2h-2zM369 279.5h2v2h-2zM379 276.5h2v2h-2zM389 276.1h2v2h-2zM399 276.1h2v2h-2zM409 277.5h2v2h-2zM419 277.5h2v2h-2zM429 273.9h2v2h-2zM439 270.5h2v2h-2zM449 267.5h2v2h-2zM459 265.1h2v2h-2zM469 262.5h2v2h-2zM479 259.5h2v2h-2zM489 257.5h2v2h-2zM499 257.5h2v2h-2zM509 253.5h2v2h-2zM519 253.5h2v2h-2zM529 259.5h2v2h-2zM539 271.5h2v2h-2zM549 261.5h2v2h-2zM559 247.5h2v2h-2zM569 241.5h2v2h-2zM579 243.5h2v2h-2zM589 247.5h2v2h-2zM599 261.5h2v2h-2zM609 269.5h2v2h-2zM619 273.1h2v2h-2zM629 258.5h2v2h-2zM639 250.5h2v2h-2zM649 248.9h2v2h-2zM659 249.9h2v2h-2zM669 241.5h2v2h-2zM679 237.9h2v2h-2zM689 237.9h2v2h-2z" stroke="#880810" stroke-width="1" fill="#880810" shape-rendering="crispEdges"/>
<polyline points="50,297.5 60,284 70,272.1 80,262.5 90,263.8 100,261.6 110,249.7 120,234 130,222.5 140,208.5 150,197.5 160,190.5 170,185 180,185 190,185.5 200,185.5 210,186.5 220,192.1 230,194.1 240,194.9 250,192.9 260,195.5 270,195.5 280,194.1 290,194.1 300,194.9 310,195.1 320,196.9 330,200.1 340,205.5 350,215.5 360,224.5 370,232.5 380,241.5 390,248.5 400,254.5 410,258.5 420,259.5 430,259.5 440,259.5 450,259.9 460,258.6 470,258.5 480,258.1 490,258.4 500,258.5 510,256.6 520,256.5 530,258.1 540,258.5 550,261.4 560,262.5 570,261 580,258.5 590,252.5 600,248.5 610,245.5 620,239.5 630,233.5 640,232.9 650,232.1 660,231.5 670,231.5 680,232.5 690,234.9" fill="none" stroke="#0838c0" stroke-width="1" stroke-linejoin="round" shape-rendering="crispEdges"/>
<path d="M130 221l1.5 1.5l-1.5 1.5l-1.5 -1.5zM140 207l1.5 1.5l-1.5 1.5l-1.5 -1.5zM150 196l1.5 1.5l-1.5 1.5l-1.5 -1.5zM160 189l1.5 1.5l-1.5 1.5l-1.5 -1.5zM170 183.5l1.5 1.5l-1.5 1.5l-1.5 -1.5zM180 183.5l1.5 1.5l-1.5 1.5l-1.5 -1.5zM190 184l1.5 1.5l-1.5 1.5l-1.5 -1.5zM200 184l1.5 1.5l-1.5 1.5l-1.5 -1.5zM210 185l1.5 1.5l-1.5 1.5l-1.5 -1.5zM220 190.6l1.5 1.5l-1.5 1.5l-1.5 -1.5zM230 192.6l1.5 1.5l-1.5 1.5l-1.5 -1.5zM240 193.4l1.5 1.5l-1.5 1.5l-1.5 -1.5zM250 191.4l1.5 1.5l-1.5 1.5l-1.5 -1.5zM260 194l1.5 1.5l-1.5 1.5l-1.5 -1.5zM270 194l1.5 1.5l-1.5 1.5l-1.5 -1.5zM280 192.6l1.5 1.5l-1.5 1.5l-1.5 -1.5zM290 192.6l1.5 1.5l-1.5 1.5l-1.5 -1.5zM300 193.4l1.5 1.5l-1.5 1.5l-1.5 -1.5zM310 193.6l1.5 1.5l-1.5 1.5l-1.5 -1.5zM320 195.4l1.5 1.5l-1.5 1.5l-1.5 -1.5zM330 198.6l1.5 1.5l-1.5 1.5l-1.5 -1.5zM340 204l1.5 1.5l-1.5 1.5l-1.5 -1.5zM350 214l1.5 1.5l-1.5 1.5l-1.5 -1.5zM360 223l1.5 1.5l-1.5 1.5l-1.5 -1.5zM370 231l1.5 1.5l-1.5 1.5l-1.5 -1.5zM380 240l1.5 1.5l-1.5 1.5l-1.5 -1.5zM390 247l1.5 1.5l-1.5 1.5l-1.5 -1.5zM400 253l1.5 1.5l-1.5 1.5l-1.5 -1.5zM410 257l1.5 1.5l-1.5 1.5l-1.5 -1.5zM420 258l1.5 1.5l-1.5 1.5l-1.5 -1.5zM430 258l1.5 1.5l-1.5 1.5l-1.5 -1.5zM440 258l1.5 1.5l-1.5 1.5l-1.5 -1.5zM450 258.4l1.5 1.5l-1.5 1.5l-1.5 -1.5zM460 257.1l1.5 1.5l-1.5 1.5l-1.5 -1.5zM470 257l1.5 1.5l-1.5 1.5l-1.5 -1.5zM480 256.6l1.5 1.5l-1.5 1.5l-1.5 -1.5zM490 256.9l1.5 1.5l-1.5 1.5l-1.5 -1.5zM500 257l1.5 1.5l-1.5 1.5l-1.5 -1.5zM510 255.1l1.5 1.5l-1.5 1.5l-1.5 -1.5zM520 255l1.5 1.5l-1.5 1.5l-1.5 -1.5zM530 256.6l1.5 1.5l-1.5 1.5l-1.5 -1.5zM540 257l1.5 1.5l-1.5 1.5l-1.5 -1.5zM550 259.9l1.5 1.5l-1.5 1.5l-1.5 -1.5zM560 261l1.5 1.5l-1.5 1.5l-1.5 -1.5zM570 259.5l1.5 1.5l-1.5 1.5l-1.5 -1.5zM580 257l1.5 1.5l-1.5 1.5l-1.5 -1.5zM590 251l1.5 1.5l-1.5 1.5l-1.5 -1.5zM600 247l1.5 1.5l-1.5 1.5l-1.5 -1.5zM610 244l1.5 1.5l-1.5 1.5l-1.5 -1.5zM620 238l1.5 1.5l-1.5 1.5l-1.5 -1.5zM630 232l1.5 1.5l-1.5 1.5l-1.5 -1.5zM640 231.4l1.5 1.5l-1.5 1.5l-1.5 -1.5zM650 230.6l1.5 1.5l-1.5 1.5l-1.5 -1.5zM660 230l1.5 1.5l-1.5 1.5l-1.5 -1.5zM670 230l1.5 1.5l-1.5 1.5l-1.5 -1.5zM680 231l1.5 1.5l-1.5 1.5l-1.5 -1.5zM690 233.4l1.5 1.5l-1.5 1.5l-1.5 -1.5z" stroke="#0838c0" stroke-width="1" fill="#0838c0" shape-rendering="crispEdges"/>
<polyline points="50,300.5 60,288.5 70,277.5 80,268.9 90,272.1 100,268.5 110,256.5 120,241.5 130,226.5 140,213.5 150,203 160,196 170,194.1 180,194.1 190,194.1 200,194.1 210,195 220,198.5 230,200 240,201 250,201.5 260,203.5 270,205.5 280,206.5 290,207.5 300,210.5 310,212.9 320,216.1 330,218.5 340,220.5 350,220.9 360,218.9 370,220.5 380,223.5 390,225.5 400,229.5 410,238.5 420,253.5 430,264.5 440,274.5 450,282.5 460,284.5 470,280.5 480,272.5 490,268.1 500,266.1 510,264.9 520,269.5 530,288.5 540,316.5 550,343.5 560,342.1 570,352.5 580,361.5 590,365.5 600,356.5 610,330.5 620,305.5 630,288.5 640,272.1 650,268.5 660,265.5 670,259.9 680,257.9 690,264.5" fill="none" stroke="#000000" stroke-width="2.6" stroke-linejoin="round"/>
<polyline points="50,300.5 60,288.5 70,277.5 80,268.9 90,272.1 100,268.5 110,256.5 120,241.5 130,226.5 140,213.5 150,203.5 160,197.9 170,196.5 180,196.5 190,196.9 200,196.9 210,197.7 220,200 230,200.5 240,200.5 250,200.5 260,203.1 270,204.1 280,204.9 290,204.5 300,207.5 310,209.5 320,211.9 330,215.5 340,222.5 350,230.5 360,234.5 370,237.5 380,242.5 390,248.5 400,253.5 410,258.5 420,260.5 430,256.5 440,252.5 450,249.5 460,248.5 470,247.9 480,249.5 490,254.5 500,262.5 510,268.5 520,275.5 530,293.5 540,297.5 550,297.5 560,293.5 570,280.5 580,269.5 590,263.5 600,256.5 610,253.5 620,257.5 630,260.1 640,264.5 650,269.5 660,276.5 670,278.9 680,283.5 690,286.9" fill="none" stroke="#0000ff" stroke-width="2.7" stroke-linejoin="round"/>
<polyline points="50,300.5 60,288.5 70,277.5 80,268.9 90,272.1 100,268.5 110,256.5 120,241.5 130,226.5 140,213.5 150,203.5 160,197.9 170,196.5 180,196.5 190,196.9 200,196.9 210,197.9 220,202.1 230,203.5 240,204.9 250,205.5 260,210.1 270,213.1 280,215.5 290,217.5 300,222.5 310,224.5 320,226.9 330,230.5 340,236.5 350,238.1 360,239.5 370,242.5 380,248.5 390,253.5 400,257.5 410,260.5 420,264.5 430,268.5 440,270.5 450,271.5 460,271.1 470,268.5 480,265.5 490,264.9 500,264.5 510,257.5 520,250.5 530,253.5 540,260.5 550,263.5 560,266.5 570,269.5 580,276.1 590,277.5 600,279.5 610,281.1 620,282.9 630,281.9 640,281.9 650,281.9 660,282.9 670,280.9 680,279.5 690,278.9" fill="none" stroke="#ff0000" stroke-width="3" stroke-linejoin="round"/>
<polyline points="310,545.5 320,543.5 330,541.5 340,541.5 350,543.5 360,545.5 370,545.5 380,545.5 390,545.5 400,545.5 410,545.5 420,545.5 430,545.5 440,545.5 450,545.5 460,545.5 470,545.5 480,545.5 490,545.5 500,545.5 510,545.5 520,545.5 530,545.5 540,545.5 550,545.5 560,545.5 570,545.5 580,545.5 590,545.5 600,545.5 610,545.5 620,545.5 630,545.5 640,545.5 650,545.5 660,545.5 670,545.5 680,545.5 690,545.5" fill="none" stroke="#905820" stroke-width="1" stroke-linejoin="round" shape-rendering="crispEdges"/>
<path d="M318.8 542.3l2.4 2.4M321.2 542.3l-2.4 2.4M328.8 540.3l2.4 2.4M331.2 540.3l-2.4 2.4M338.8 540.3l2.4 2.4M341.2 540.3l-2.4 2.4M348.8 542.3l2.4 2.4M351.2 542.3l-2.4 2.4" stroke="#905820" stroke-width="1" fill="none" shape-rendering="crispEdges"/>
<polyline points="310,545.5 320,545.5 330,545.5 340,545.5 350,545.5 360,545.5 370,545.5 380,545.5 390,545.5 400,545.5 410,545.5 420,545.5 430,545.5 440,543.5 450,536.5 460,540.5 470,532.5 480,541.5 490,543.5 500,545.5 510,545.5 520,545.5 530,545.5 540,545.5 550,545.5 560,545.5 570,545.5 580,545.5 590,545.5 600,545.5 610,545.5 620,545.5 630,545.5 640,545.5 650,545.5 660,545.5 670,545.5 680,545.5 690,545.5" fill="none" stroke="#e8842c" stroke-width="1" stroke-linejoin="round" shape-rendering="crispEdges"/>
<path d="M439 542.5h2v2h-2zM449 535.5h2v2h-2zM459 539.5h2v2h-2zM469 531.5h2v2h-2zM479 540.5h2v2h-2zM489 542.5h2v2h-2z" stroke="#e8842c" stroke-width="1" fill="#e8842c" shape-rendering="crispEdges"/>
<polyline points="310,545.5 320,545.5 330,545.5 340,545.5 350,545.5 360,545.5 370,545.5 380,545.5 390,545.5 400,545.5 410,545.5 420,545.5 430,545.5 440,545.5 450,545.5 460,545.5 470,545.5 480,545.5 490,545.5 500,543.5 510,536.5 520,541.5 530,538.5 540,543.5 550,545.5 560,545.5 570,545.5 580,545.5 590,545.5 600,545.5 610,545.5 620,545.5 630,545.5 640,545.5 650,545.5 660,545.5 670,545.5 680,545.5 690,545.5" fill="none" stroke="#10d858" stroke-width="1" stroke-linejoin="round" shape-rendering="crispEdges"/>
<path d="M500 542l1.5 1.5l-1.5 1.5l-1.5 -1.5zM510 535l1.5 1.5l-1.5 1.5l-1.5 -1.5zM520 540l1.5 1.5l-1.5 1.5l-1.5 -1.5zM530 537l1.5 1.5l-1.5 1.5l-1.5 -1.5zM540 542l1.5 1.5l-1.5 1.5l-1.5 -1.5z" stroke="#10d858" stroke-width="1" fill="#10d858" shape-rendering="crispEdges"/>
<polyline points="310,545.5 320,545.5 330,545.5 340,545.5 350,545.5 360,545.5 370,545.5 380,545.5 390,545.5 400,545.5 410,545.5 420,545.5 430,545.5 440,545.5 450,545.5 460,545.5 470,545.5 480,542.5 490,534.5 500,540.5 510,542.5 520,542.5 530,542.5 540,542.5 550,542.5 560,542.5 570,542.5 580,542.5 590,536.5 600,534.5 610,540.5 620,545.5 630,545.5 640,545.5 650,545.5 660,545.5 670,545.5 680,545.5 690,545.5" fill="none" stroke="#d078d0" stroke-width="1" stroke-linejoin="round" shape-rendering="crispEdges"/>
<path d="M480 541l1.5 1.5l-1.5 1.5l-1.5 -1.5zM490 533l1.5 1.5l-1.5 1.5l-1.5 -1.5zM500 539l1.5 1.5l-1.5 1.5l-1.5 -1.5zM510 541l1.5 1.5l-1.5 1.5l-1.5 -1.5zM520 541l1.5 1.5l-1.5 1.5l-1.5 -1.5zM530 541l1.5 1.5l-1.5 1.5l-1.5 -1.5zM540 541l1.5 1.5l-1.5 1.5l-1.5 -1.5zM550 541l1.5 1.5l-1.5 1.5l-1.5 -1.5zM560 541l1.5 1.5l-1.5 1.5l-1.5 -1.5zM570 541l1.5 1.5l-1.5 1.5l-1.5 -1.5zM580 541l1.5 1.5l-1.5 1.5l-1.5 -1.5zM590 535l1.5 1.5l-1.5 1.5l-1.5 -1.5zM600 533l1.5 1.5l-1.5 1.5l-1.5 -1.5zM610 539l1.5 1.5l-1.5 1.5l-1.5 -1.5z" stroke="#d078d0" stroke-width="1" fill="#d078d0" shape-rendering="crispEdges"/>
<polyline points="310,545.5 320,545.5 330,545.5 340,545.5 350,545.5 360,545.5 370,545.5 380,545.5 390,545.5 400,545.5 410,545.5 420,543.5 430,537.5 440,541.5 450,543.5 460,543.4 470,543.2 480,543.1 490,542.9 500,542.8 510,542.6 520,542.5 530,535.5 540,540.5 550,545.5 560,545.5 570,545.5 580,545.5 590,545.5 600,545.5 610,545.5 620,545.5 630,545.5 640,545.5 650,545.5 660,545.5 670,545.5 680,545.5 690,545.5" fill="none" stroke="#3890c0" stroke-width="1" stroke-linejoin="round" shape-rendering="crispEdges"/>
<path d="M419 542.5h2v2h-2zM429 536.5h2v2h-2zM439 540.5h2v2h-2zM449 542.5h2v2h-2zM459 542.4h2v2h-2zM469 542.2h2v2h-2zM479 542.1h2v2h-2zM489 541.9h2v2h-2zM499 541.8h2v2h-2zM509 541.6h2v2h-2zM519 541.5h2v2h-2zM529 534.5h2v2h-2zM539 539.5h2v2h-2z" stroke="#3890c0" stroke-width="1" fill="#3890c0" shape-rendering="crispEdges"/>
<polyline points="310,545.5 320,545.5 330,545.5 340,545.5 350,545.5 360,545.5 370,545.5 380,545.5 390,545.5 400,545.5 410,545.5 420,545.5 430,545.5 440,545.5 450,545.5 460,545.5 470,543.5 480,536.5 490,539.5 500,543.5 510,545.5 520,545.5 530,545.5 540,545.5 550,545.5 560,545.5 570,545.5 580,545.5 590,545.5 600,545.5 610,545.5 620,545.5 630,545.5 640,545.5 650,545.5 660,545.5 670,545.5 680,545.5 690,545.5" fill="none" stroke="#d0c078" stroke-width="1" stroke-linejoin="round" shape-rendering="crispEdges"/>
<path d="M469 542.5h2v2h-2zM479 535.5h2v2h-2zM489 538.5h2v2h-2zM499 542.5h2v2h-2z" stroke="#d0c078" stroke-width="1" fill="#d0c078" shape-rendering="crispEdges"/>
<polyline points="310,545.5 320,545.5 330,545.5 340,545.5 350,545.5 360,545.5 370,545.5 380,545.5 390,545.5 400,545.5 410,543.5 420,538.5 430,536.5 440,542.5 450,545.5 460,545.5 470,545.5 480,545.5 490,545.5 500,545.5 510,545.5 520,545.5 530,545.5 540,545.5 550,545.5 560,545.5 570,545.5 580,545.5 590,545.5 600,545.5 610,545.5 620,545.5 630,545.5 640,545.5 650,545.5 660,545.5 670,545.5 680,545.5 690,545.5" fill="none" stroke="#b05010" stroke-width="1" stroke-linejoin="round" shape-rendering="crispEdges"/>
<path d="M409 542.5h2v2h-2zM419 537.5h2v2h-2zM429 535.5h2v2h-2zM439 541.5h2v2h-2z" stroke="#b05010" stroke-width="1" fill="#b05010" shape-rendering="crispEdges"/>
<polyline points="310,545.5 320,545.5 330,545.5 340,545.5 350,545.5 360,545.5 370,545.5 380,545.5 390,545.5 400,545.5 410,545.5 420,545.5 430,545.5 440,545.5 450,545.5 460,545.5 470,545.5 480,545.5 490,545.5 500,545.5 510,545.5 520,545.5 530,545.5 540,543.5 550,537.5 560,540.5 570,543.5 580,545.5 590,545.5 600,545.5 610,545.5 620,545.5 630,545.5 640,545.5 650,545.5 660,545.5 670,545.5 680,545.5 690,545.5" fill="none" stroke="#880810" stroke-width="1" stroke-linejoin="round" shape-rendering="crispEdges"/>
<path d="M539 542.5h2v2h-2zM549 536.5h2v2h-2zM559 539.5h2v2h-2zM569 542.5h2v2h-2z" stroke="#880810" stroke-width="1" fill="#880810" shape-rendering="crispEdges"/>
<polyline points="310,545.5 320,545.5 330,545.5 340,545.5 350,545.5 360,545.5 370,545.5 380,545.5 390,545.5 400,545.5 410,545.5 420,545.5 430,545.5 440,545.5 450,545.5 460,545.5 470,545.5 480,545.5 490,545.5 500,545.5 510,545.5 520,545.5 530,545.5 540,545.5 550,545.5 560,545.5 570,545.5 580,545.5 590,543.5 600,539.5 610,541.5 620,544.5 630,545.5 640,545.5 650,545.5 660,545.5 670,545.5 680,545.5 690,545.5" fill="none" stroke="#0838c0" stroke-width="1" stroke-linejoin="round" shape-rendering="crispEdges"/>
<path d="M590 542l1.5 1.5l-1.5 1.5l-1.5 -1.5zM600 538l1.5 1.5l-1.5 1.5l-1.5 -1.5zM610 540l1.5 1.5l-1.5 1.5l-1.5 -1.5z" stroke="#0838c0" stroke-width="1" fill="#0838c0" shape-rendering="crispEdges"/>
<polyline points="310,545.5 320,545.5 330,545.5 340,545.5 350,545.5 360,545.5 370,545.5 380,545.5 390,545.5 400,545.5 410,545.5 420,545.5 430,545.5 440,545.5 450,545.5 460,545.5 470,545.5 480,545.5 490,545.5 500,545.5 510,545.5 520,545.5 530,545.5 540,545.5 550,545.5 560,545.5 570,545.5 580,545.5 590,545.5 600,543.5 610,537.5 620,540.5 630,538.5 640,543.5 650,545.5 660,545.5 670,545.5 680,545.5 690,545.5" fill="none" stroke="#284868" stroke-width="1" stroke-linejoin="round" shape-rendering="crispEdges"/>
<path d="M598.8 542.3l2.4 2.4M601.2 542.3l-2.4 2.4M608.8 536.3l2.4 2.4M611.2 536.3l-2.4 2.4M618.8 539.3l2.4 2.4M621.2 539.3l-2.4 2.4M628.8 537.3l2.4 2.4M631.2 537.3l-2.4 2.4M638.8 542.3l2.4 2.4M641.2 542.3l-2.4 2.4" stroke="#284868" stroke-width="1" fill="none" shape-rendering="crispEdges"/>
<polyline points="310,545.5 320,545.5 330,545.5 340,545.5 350,545.5 360,545.5 370,545.5 380,545.5 390,545.5 400,545.5 410,545.5 420,545.5 430,545.5 440,545.5 450,545.5 460,545.5 470,545.5 480,545.5 490,545.5 500,545.5 510,545.5 520,545.5 530,545.5 540,545.5 550,545.5 560,545.5 570,545.5 580,545.5 590,538.5 600,523.5 610,535.5 620,542.5 630,545.5 640,545.5 650,545.5 660,545.5 670,545.5 680,545.5 690,545.5" fill="none" stroke="#e0c8a0" stroke-width="1" stroke-linejoin="round" shape-rendering="crispEdges"/>
<path d="M588.5 538.5h3M590 537v3M598.5 523.5h3M600 522v3M608.5 535.5h3M610 534v3M618.5 542.5h3M620 541v3" stroke="#e0c8a0" stroke-width="1" fill="none" shape-rendering="crispEdges"/>
<polyline points="310,545.5 320,545.5 330,545.5 340,545.5 350,545.5 360,545.5 370,545.5 380,545.5 390,545.5 400,545.5 410,545.5 420,545.5 430,545.5 440,545.5 450,545.5 460,545.5 470,545.5 480,545.5 490,545.5 500,545.5 510,545.5 520,545.5 530,540.5 540,520.5 550,519.5 560,530.5 570,535.5 580,524.5 590,530.5 600,540.5 610,544.5 620,545.5 630,545.5 640,545.5 650,545.5 660,545.5 670,545.5 680,545.5 690,545.5" fill="none" stroke="#a0f040" stroke-width="1" stroke-linejoin="round" shape-rendering="crispEdges"/>
<path d="M529 539.5h2v2h-2zM539 519.5h2v2h-2zM549 518.5h2v2h-2zM559 529.5h2v2h-2zM569 534.5h2v2h-2zM579 523.5h2v2h-2zM589 529.5h2v2h-2zM599 539.5h2v2h-2z" stroke="#a0f040" stroke-width="1" fill="#a0f040" shape-rendering="crispEdges"/>
<polyline points="310,545.5 320,545.5 330,545.5 340,545.5 350,545.5 360,545.5 370,545.5 380,545.5 390,545.5 400,545.5 410,545.5 420,545.5 430,545.5 440,545.5 450,545.5 460,545.5 470,545.5 480,545.5 490,545.5 500,545.5 510,545.5 520,545.5 530,545.5 540,545.5 550,545.5 560,540.5 570,520.5 580,527.5 590,530.5 600,523.5 610,535.5 620,513.5 630,524.1 640,506.1 650,542.5 660,543.5 670,535.5 680,543.5 690,545.5" fill="none" stroke="#80c868" stroke-width="1" stroke-linejoin="round" shape-rendering="crispEdges"/>
<path d="M560 539l1.5 1.5l-1.5 1.5l-1.5 -1.5zM570 519l1.5 1.5l-1.5 1.5l-1.5 -1.5zM580 526l1.5 1.5l-1.5 1.5l-1.5 -1.5zM590 529l1.5 1.5l-1.5 1.5l-1.5 -1.5zM600 522l1.5 1.5l-1.5 1.5l-1.5 -1.5zM610 534l1.5 1.5l-1.5 1.5l-1.5 -1.5zM620 512l1.5 1.5l-1.5 1.5l-1.5 -1.5zM630 522.6l1.5 1.5l-1.5 1.5l-1.5 -1.5zM640 504.6l1.5 1.5l-1.5 1.5l-1.5 -1.5zM650 541l1.5 1.5l-1.5 1.5l-1.5 -1.5zM660 542l1.5 1.5l-1.5 1.5l-1.5 -1.5zM670 534l1.5 1.5l-1.5 1.5l-1.5 -1.5zM680 542l1.5 1.5l-1.5 1.5l-1.5 -1.5z" stroke="#80c868" stroke-width="1" fill="#80c868" shape-rendering="crispEdges"/>
<polyline points="310,545.5 320,545.5 330,545.5 340,545.5 350,545.5 360,545.5 370,545.5 380,545.5 390,545.5 400,545.5 410,540.5 420,527.5 430,521.5 440,540.5 450,540.1 460,539.7 470,539.3 480,538.9 490,538.5 500,510.5 510,540.5 520,540.8 530,541.2 540,541.5 550,541.8 560,542.2 570,542.5 580,535.5 590,523.5 600,514.1 610,503.5 620,535.5 630,541.5 640,544.5 650,545.5 660,545.5 670,545.5 680,545.5 690,545.5" fill="none" stroke="#707880" stroke-width="1" stroke-linejoin="round" shape-rendering="crispEdges"/>
<path d="M408.5 540.5h3M410 539v3M418.5 527.5h3M420 526v3M428.5 521.5h3M430 520v3M438.5 540.5h3M440 539v3M448.5 540.1h3M450 538.6v3M458.5 539.7h3M460 538.2v3M468.5 539.3h3M470 537.8v3M478.5 538.9h3M480 537.4v3M488.5 538.5h3M490 537v3M498.5 510.5h3M500 509v3M508.5 540.5h3M510 539v3M518.5 540.8h3M520 539.3v3M528.5 541.2h3M530 539.7v3M538.5 541.5h3M540 540v3M548.5 541.8h3M550 540.3v3M558.5 542.2h3M560 540.7v3M568.5 542.5h3M570 541v3M578.5 535.5h3M580 534v3M588.5 523.5h3M590 522v3M598.5 514.1h3M600 512.6v3M608.5 503.5h3M610 502v3M618.5 535.5h3M620 534v3M628.5 541.5h3M630 540v3" stroke="#707880" stroke-width="1" fill="none" shape-rendering="crispEdges"/>
<polyline points="310,545.5 320,545.5 330,545.5 340,545.5 350,545.5 360,545.5 370,535.5 380,530 390,523.5 400,542.5 410,544.5 420,545.5 430,545.5 440,545.5 450,545.5 460,545.5 470,545.5 480,545.5 490,545.5 500,545.5 510,545.5 520,545.5 530,545.5 540,545.5 550,545.5 560,545.5 570,545.5 580,545.5 590,545.5 600,545.5 610,545.5 620,545.5 630,545.5 640,545.5 650,545.5 660,545.5 670,545.5 680,545.5 690,545.5" fill="none" stroke="#2868a0" stroke-width="1" stroke-linejoin="round" shape-rendering="crispEdges"/>
<path d="M370 534l1.5 1.5l-1.5 1.5l-1.5 -1.5zM380 528.5l1.5 1.5l-1.5 1.5l-1.5 -1.5zM390 522l1.5 1.5l-1.5 1.5l-1.5 -1.5zM400 541l1.5 1.5l-1.5 1.5l-1.5 -1.5z" stroke="#2868a0" stroke-width="1" fill="#2868a0" shape-rendering="crispEdges"/>
<polyline points="310,545.5 320,545.5 330,545.5 340,545.5 350,543.5 360,538.5 370,544.5 380,544.2 390,543.8 400,543.5 410,543.2 420,542.8 430,542.5 440,542.2 450,541.8 460,541.5 470,541.2 480,540.8 490,540.5 500,493.5 510,540.5 520,545.5 530,545.5 540,545.5 550,545.5 560,545.5 570,545.5 580,545.5 590,545.5 600,545.5 610,545.5 620,545.5 630,545.5 640,545.5 650,545.5 660,545.5 670,545.5 680,545.5 690,545.5" fill="none" stroke="#300870" stroke-width="1" stroke-linejoin="round" shape-rendering="crispEdges"/>
<path d="M348.5 543.5h3M350 542v3M358.5 538.5h3M360 537v3M398.5 543.5h3M400 542v3M408.5 543.2h3M410 541.7v3M418.5 542.8h3M420 541.3v3M428.5 542.5h3M430 541v3M438.5 542.2h3M440 540.7v3M448.5 541.8h3M450 540.3v3M458.5 541.5h3M460 540v3M468.5 541.2h3M470 539.7v3M478.5 540.8h3M480 539.3v3M488.5 540.5h3M490 539v3M498.5 493.5h3M500 492v3M508.5 540.5h3M510 539v3" stroke="#300870" stroke-width="1" fill="none" shape-rendering="crispEdges"/>
<polyline points="310,545.5 320,545.5 330,545.5 340,545.5 350,545.5 360,544.5 370,526.5 380,501 390,540.5 400,543.5 410,545.5 420,545.5 430,545.5 440,545.5 450,545.5 460,545.5 470,545.5 480,545.5 490,545.5 500,545.5 510,545.5 520,545.5 530,545.5 540,545.5 550,545.5 560,545.5 570,545.5 580,545.5 590,545.5 600,545.5 610,545.5 620,545.5 630,545.5 640,545.5 650,545.5 660,545.5 670,545.5 680,545.5 690,545.5" fill="none" stroke="#f0c010" stroke-width="1" stroke-linejoin="round" shape-rendering="crispEdges"/>
<path d="M368.8 525.3l2.4 2.4M371.2 525.3l-2.4 2.4M378.8 499.8l2.4 2.4M381.2 499.8l-2.4 2.4M388.8 539.3l2.4 2.4M391.2 539.3l-2.4 2.4M398.8 542.3l2.4 2.4M401.2 542.3l-2.4 2.4" stroke="#f0c010" stroke-width="1" fill="none" shape-rendering="crispEdges"/>
<polyline points="310,545.5 320,545.5 330,545.5 340,545.5 350,545.5 360,543 370,519.5 380,540.5 390,543.5 400,543.5 410,543.5 420,543.5 430,543.5 440,530.5 450,509.5 460,525.5 470,540.5 480,544.5 490,545.5 500,545.5 510,545.5 520,545.5 530,545.5 540,545.5 550,545.5 560,545.5 570,545.5 580,545.5 590,545.5 600,545.5 610,545.5 620,545.5 630,545.5 640,545.5 650,545.5 660,545.5 670,545.5 680,545.5 690,545.5" fill="none" stroke="#1080f0" stroke-width="1" stroke-linejoin="round" shape-rendering="crispEdges"/>
<path d="M358.8 541.8l2.4 2.4M361.2 541.8l-2.4 2.4M368.8 518.3l2.4 2.4M371.2 518.3l-2.4 2.4M378.8 539.3l2.4 2.4M381.2 539.3l-2.4 2.4M388.8 542.3l2.4 2.4M391.2 542.3l-2.4 2.4M398.8 542.3l2.4 2.4M401.2 542.3l-2.4 2.4M408.8 542.3l2.4 2.4M411.2 542.3l-2.4 2.4M418.8 542.3l2.4 2.4M421.2 542.3l-2.4 2.4M428.8 542.3l2.4 2.4M431.2 542.3l-2.4 2.4M438.8 529.3l2.4 2.4M441.2 529.3l-2.4 2.4M448.8 508.3l2.4 2.4M451.2 508.3l-2.4 2.4M458.8 524.3l2.4 2.4M461.2 524.3l-2.4 2.4M468.8 539.3l2.4 2.4M471.2 539.3l-2.4 2.4" stroke="#1080f0" stroke-width="1" fill="none" shape-rendering="crispEdges"/>
<polyline points="310,545.5 320,545.5 330,545.5 340,545.5 350,545.5 360,545.5 370,545.5 380,544.5 390,518 400,542.5 410,541.5 420,540.5 430,539.5 440,538.5 450,520.5 460,540.5 470,540.5 480,540.5 490,540.5 500,540.5 510,540.5 520,540.5 530,505.5 540,538.5 550,543.5 560,543.5 570,543.5 580,543.5 590,543.5 600,543.5 610,543.5 620,543.5 630,538.5 640,543.5 650,543.5 660,526.5 670,537.5 680,544.5 690,545.5" fill="none" stroke="#806030" stroke-width="1" stroke-linejoin="round" shape-rendering="crispEdges"/>
<path d="M388.8 516.8l2.4 2.4M391.2 516.8l-2.4 2.4M398.8 541.3l2.4 2.4M401.2 541.3l-2.4 2.4M408.8 540.3l2.4 2.4M411.2 540.3l-2.4 2.4M418.8 539.3l2.4 2.4M421.2 539.3l-2.4 2.4M428.8 538.3l2.4 2.4M431.2 538.3l-2.4 2.4M438.8 537.3l2.4 2.4M441.2 537.3l-2.4 2.4M448.8 519.3l2.4 2.4M451.2 519.3l-2.4 2.4M458.8 539.3l2.4 2.4M461.2 539.3l-2.4 2.4M468.8 539.3l2.4 2.4M471.2 539.3l-2.4 2.4M478.8 539.3l2.4 2.4M481.2 539.3l-2.4 2.4M488.8 539.3l2.4 2.4M491.2 539.3l-2.4 2.4M498.8 539.3l2.4 2.4M501.2 539.3l-2.4 2.4M508.8 539.3l2.4 2.4M511.2 539.3l-2.4 2.4M518.8 539.3l2.4 2.4M521.2 539.3l-2.4 2.4M528.8 504.3l2.4 2.4M531.2 504.3l-2.4 2.4M538.8 537.3l2.4 2.4M541.2 537.3l-2.4 2.4M548.8 542.3l2.4 2.4M551.2 542.3l-2.4 2.4M558.8 542.3l2.4 2.4M561.2 542.3l-2.4 2.4M568.8 542.3l2.4 2.4M571.2 542.3l-2.4 2.4M578.8 542.3l2.4 2.4M581.2 542.3l-2.4 2.4M588.8 542.3l2.4 2.4M591.2 542.3l-2.4 2.4M598.8 542.3l2.4 2.4M601.2 542.3l-2.4 2.4M608.8 542.3l2.4 2.4M611.2 542.3l-2.4 2.4M618.8 542.3l2.4 2.4M621.2 542.3l-2.4 2.4M628.8 537.3l2.4 2.4M631.2 537.3l-2.4 2.4M638.8 542.3l2.4 2.4M641.2 542.3l-2.4 2.4M648.8 542.3l2.4 2.4M651.2 542.3l-2.4 2.4M658.8 525.3l2.4 2.4M661.2 525.3l-2.4 2.4M668.8 536.3l2.4 2.4M671.2 536.3l-2.4 2.4" stroke="#806030" stroke-width="1" fill="none" shape-rendering="crispEdges"/>
<polyline points="310,545.5 320,545.5 330,545.5 340,545.5 350,545.5 360,545.5 370,545.5 380,543.5 390,528.5 400,515 410,536.5 420,542.5 430,539 440,535.5 450,508.5 460,485.3 470,535.5 480,543.5 490,545.5 500,545.5 510,545.5 520,545.5 530,545.5 540,545.5 550,545.5 560,545.5 570,545.5 580,545.5 590,545.5 600,545.5 610,545.5 620,545.5 630,545.5 640,545.5 650,545.5 660,545.5 670,545.5 680,545.5 690,545.5" fill="none" stroke="#f06820" stroke-width="1" stroke-linejoin="round" shape-rendering="crispEdges"/>
<path d="M378.5 543.5h3M380 542v3M388.5 528.5h3M390 527v3M398.5 515h3M400 513.5v3M408.5 536.5h3M410 535v3M418.5 542.5h3M420 541v3M428.5 539h3M430 537.5v3M438.5 535.5h3M440 534v3M448.5 508.5h3M450 507v3M458.5 485.3h3M460 483.8v3M468.5 535.5h3M470 534v3M478.5 543.5h3M480 542v3" stroke="#f06820" stroke-width="1" fill="none" shape-rendering="crispEdges"/>
<polyline points="310,545.5 320,545.5 330,545.5 340,545.5 350,545.5 360,544.5 370,526 380,540.5 390,538 400,530 410,524.5 420,486.5 430,444.1 440,540.5 450,489.5 460,530.5 470,540.5 480,544.5 490,543.9 500,543.3 510,542.7 520,542.1 530,541.5 540,508.1 550,541.5 560,545.5 570,545.5 580,545.5 590,545.5 600,545.5 610,545.5 620,545.5 630,545.5 640,545.5 650,545.5 660,545.5 670,545.5 680,545.5 690,545.5" fill="none" stroke="#9050b8" stroke-width="1" stroke-linejoin="round" shape-rendering="crispEdges"/>
<path d="M368.5 526h3M370 524.5v3M378.5 540.5h3M380 539v3M388.5 538h3M390 536.5v3M398.5 530h3M400 528.5v3M408.5 524.5h3M410 523v3M418.5 486.5h3M420 485v3M428.5 444.1h3M430 442.6v3M438.5 540.5h3M440 539v3M448.5 489.5h3M450 488v3M458.5 530.5h3M460 529v3M468.5 540.5h3M470 539v3M498.5 543.3h3M500 541.8v3M508.5 542.7h3M510 541.2v3M518.5 542.1h3M520 540.6v3M528.5 541.5h3M530 540v3M538.5 508.1h3M540 506.6v3M548.5 541.5h3M550 540v3" stroke="#9050b8" stroke-width="1" fill="none" shape-rendering="crispEdges"/>
<polyline points="310,545.5 320,545.5 330,545.5 340,545.5 350,545.5 360,545.5 370,545.5 380,542.5 390,501.5 400,486 410,527.5 420,438.1 430,511.5 440,466.9 450,520.5 460,540.5 470,543.5 480,543.5 490,543.5 500,543.5 510,543.5 520,543.5 530,511.5 540,541.5 550,545.5 560,545.5 570,545.5 580,545.5 590,545.5 600,545.5 610,545.5 620,545.5 630,545.5 640,545.5 650,545.5 660,545.5 670,545.5 680,545.5 690,545.5" fill="none" stroke="#f0d010" stroke-width="1" stroke-linejoin="round" shape-rendering="crispEdges"/>
<path d="M379 541.5h2v2h-2zM389 500.5h2v2h-2zM399 485h2v2h-2zM409 526.5h2v2h-2zM419 437.1h2v2h-2zM429 510.5h2v2h-2zM439 465.9h2v2h-2zM449 519.5h2v2h-2zM459 539.5h2v2h-2zM469 542.5h2v2h-2zM479 542.5h2v2h-2zM489 542.5h2v2h-2zM499 542.5h2v2h-2zM509 542.5h2v2h-2zM519 542.5h2v2h-2zM529 510.5h2v2h-2zM539 540.5h2v2h-2z" stroke="#f0d010" stroke-width="1" fill="#f0d010" shape-rendering="crispEdges"/>
<polyline points="310,545.5 320,545.5 330,545.5 340,545.5 350,545.5 360,545.5 370,545.5 380,545.5 390,545.5 400,545.5 410,545.5 420,545.5 430,545.5 440,545.5 450,545.5 460,540.5 470,491 480,454.5 490,530.5 500,542.5 510,542.5 520,542.5 530,542.5 540,542.5 550,542.5 560,542.5 570,527.5 580,496.9 590,538.5 600,535.5 610,538.5 620,543.5 630,545.5 640,545.5 650,545.5 660,545.5 670,545.5 680,545.5 690,545.5" fill="none" stroke="#e080f0" stroke-width="1" stroke-linejoin="round" shape-rendering="crispEdges"/>
<path d="M459 539.5h2v2h-2zM469 490h2v2h-2zM479 453.5h2v2h-2zM489 529.5h2v2h-2zM499 541.5h2v2h-2zM509 541.5h2v2h-2zM519 541.5h2v2h-2zM529 541.5h2v2h-2zM539 541.5h2v2h-2zM549 541.5h2v2h-2zM559 541.5h2v2h-2zM569 526.5h2v2h-2zM579 495.9h2v2h-2zM589 537.5h2v2h-2zM599 534.5h2v2h-2zM609 537.5h2v2h-2zM619 542.5h2v2h-2z" stroke="#e080f0" stroke-width="1" fill="#e080f0" shape-rendering="crispEdges"/>
<polyline points="310,545.5 320,545.5 330,545.5 340,545.5 350,545.5 360,545.5 370,545.5 380,545.5 390,545.5 400,545.5 410,545.5 420,545.5 430,545.5 440,545.5 450,545.5 460,545.5 470,545.5 480,545.5 490,545.5 500,545.5 510,545.5 520,545.5 530,542.5 540,500.5 550,464.5 560,451.5 570,540.5 580,544.5 590,544.4 600,544.2 610,544.1 620,543.9 630,543.8 640,543.6 650,543.5 660,538.5 670,536.5 680,543.5 690,545.5" fill="none" stroke="#e8a858" stroke-width="1" stroke-linejoin="round" shape-rendering="crispEdges"/>
<path d="M530 541l1.5 1.5l-1.5 1.5l-1.5 -1.5zM540 499l1.5 1.5l-1.5 1.5l-1.5 -1.5zM550 463l1.5 1.5l-1.5 1.5l-1.5 -1.5zM560 450l1.5 1.5l-1.5 1.5l-1.5 -1.5zM570 539l1.5 1.5l-1.5 1.5l-1.5 -1.5zM640 542.1l1.5 1.5l-1.5 1.5l-1.5 -1.5zM650 542l1.5 1.5l-1.5 1.5l-1.5 -1.5zM660 537l1.5 1.5l-1.5 1.5l-1.5 -1.5zM670 535l1.5 1.5l-1.5 1.5l-1.5 -1.5zM680 542l1.5 1.5l-1.5 1.5l-1.5 -1.5z" stroke="#e8a858" stroke-width="1" fill="#e8a858" shape-rendering="crispEdges"/>
<polyline points="310,545.5 320,545.5 330,545.5 340,545.5 350,545.5 360,545.5 370,545.5 380,545.5 390,545.5 400,545.5 410,545.5 420,545.5 430,543.5 440,535.5 450,419 460,480.5 470,461.5 480,444.5 490,536.5 500,543.5 510,543.5 520,543.5 530,543.5 540,543.5 550,543.5 560,543.5 570,543.5 580,543.5 590,543.5 600,543.5 610,543.5 620,543.5 630,543.5 640,543.5 650,543.5 660,543.5 670,540.5 680,544.5 690,545.5" fill="none" stroke="#2008a0" stroke-width="1" stroke-linejoin="round" shape-rendering="crispEdges"/>
<path d="M428.8 542.3l2.4 2.4M431.2 542.3l-2.4 2.4M438.8 534.3l2.4 2.4M441.2 534.3l-2.4 2.4M448.8 417.8l2.4 2.4M451.2 417.8l-2.4 2.4M458.8 479.3l2.4 2.4M461.2 479.3l-2.4 2.4M468.8 460.3l2.4 2.4M471.2 460.3l-2.4 2.4M478.8 443.3l2.4 2.4M481.2 443.3l-2.4 2.4M488.8 535.3l2.4 2.4M491.2 535.3l-2.4 2.4M498.8 542.3l2.4 2.4M501.2 542.3l-2.4 2.4M508.8 542.3l2.4 2.4M511.2 542.3l-2.4 2.4M518.8 542.3l2.4 2.4M521.2 542.3l-2.4 2.4M528.8 542.3l2.4 2.4M531.2 542.3l-2.4 2.4M538.8 542.3l2.4 2.4M541.2 542.3l-2.4 2.4M548.8 542.3l2.4 2.4M551.2 542.3l-2.4 2.4M558.8 542.3l2.4 2.4M561.2 542.3l-2.4 2.4M568.8 542.3l2.4 2.4M571.2 542.3l-2.4 2.4M578.8 542.3l2.4 2.4M581.2 542.3l-2.4 2.4M588.8 542.3l2.4 2.4M591.2 542.3l-2.4 2.4M598.8 542.3l2.4 2.4M601.2 542.3l-2.4 2.4M608.8 542.3l2.4 2.4M611.2 542.3l-2.4 2.4M618.8 542.3l2.4 2.4M621.2 542.3l-2.4 2.4M628.8 542.3l2.4 2.4M631.2 542.3l-2.4 2.4M638.8 542.3l2.4 2.4M641.2 542.3l-2.4 2.4M648.8 542.3l2.4 2.4M651.2 542.3l-2.4 2.4M658.8 542.3l2.4 2.4M661.2 542.3l-2.4 2.4M668.8 539.3l2.4 2.4M671.2 539.3l-2.4 2.4" stroke="#2008a0" stroke-width="1" fill="none" shape-rendering="crispEdges"/>
<polyline points="310,545.5 320,545.5 330,545.5 340,545.5 350,545.5 360,545.5 370,545.5 380,545.5 390,545.5 400,545.5 410,545.5 420,545.5 430,545.5 440,545.5 450,545.5 460,542.5 470,503.5 480,397.8 490,481.2 500,535.5 510,525.5 520,528.5 530,444.5 540,502.5 550,429.5 560,536.5 570,543.5 580,545.5 590,545.5 600,545.5 610,545.5 620,545.5 630,545.5 640,545.5 650,545.5 660,545.5 670,545.5 680,545.5 690,545.5" fill="none" stroke="#5a8a10" stroke-width="1" stroke-linejoin="round" shape-rendering="crispEdges"/>
<path d="M460 541l1.5 1.5l-1.5 1.5l-1.5 -1.5zM470 502l1.5 1.5l-1.5 1.5l-1.5 -1.5zM480 396.3l1.5 1.5l-1.5 1.5l-1.5 -1.5zM490 479.7l1.5 1.5l-1.5 1.5l-1.5 -1.5zM500 534l1.5 1.5l-1.5 1.5l-1.5 -1.5zM510 524l1.5 1.5l-1.5 1.5l-1.5 -1.5zM520 527l1.5 1.5l-1.5 1.5l-1.5 -1.5zM530 443l1.5 1.5l-1.5 1.5l-1.5 -1.5zM540 501l1.5 1.5l-1.5 1.5l-1.5 -1.5zM550 428l1.5 1.5l-1.5 1.5l-1.5 -1.5zM560 535l1.5 1.5l-1.5 1.5l-1.5 -1.5zM570 542l1.5 1.5l-1.5 1.5l-1.5 -1.5z" stroke="#5a8a10" stroke-width="1" fill="#5a8a10" shape-rendering="crispEdges"/>
<polyline points="310,545.5 320,545.5 330,545.5 340,545.5 350,545.5 360,545.5 370,545.5 380,545.5 390,545.5 400,545.5 410,545.5 420,545.5 430,545.5 440,545.5 450,545.5 460,545.5 470,545.5 480,545.5 490,545.5 500,545.5 510,545.5 520,545.5 530,545.5 540,543.5 550,483.5 560,543.5 570,543.5 580,452.1 590,540.5 600,538.5 610,543.5 620,544.5 630,545.5 640,545.5 650,545.5 660,545.5 670,545.5 680,545.5 690,545.5" fill="none" stroke="#000000" stroke-width="1.7" stroke-linejoin="round"/>
<polyline points="310,545.5 320,545.5 330,545.5 340,545.5 350,545.5 360,545.5 370,545.5 380,545.5 390,545.5 400,544.5 410,478.1 420,542.5 430,544.5 440,544.4 450,544.2 460,544.1 470,544 480,543.9 490,543.8 500,543.6 510,543.5 520,451.5 530,543.5 540,545.5 550,545.5 560,545.5 570,545.5 580,545.5 590,545.5 600,545.5 610,545.5 620,545.5 630,545.5 640,545.5 650,545.5 660,545.5 670,545.5 680,545.5 690,545.5" fill="none" stroke="#0000ff" stroke-width="2" stroke-linejoin="round"/>
<polyline points="60,545.5 70,545.5 80,545.5 90,545.5 100,545.5 110,545.5 120,545.5 130,545.5 140,545.5 150,545.5 160,545.5 170,545.5 180,545.5 190,545.5 200,545.5 210,545.5 220,545.5 230,545.5 240,545.5 250,545.5 260,545.5 270,545.5 280,545.5 290,545.5 300,545.5 310,545.5 320,545 330,544.5 340,544.2 350,543.8 360,543.5 370,543 380,542.5 390,541.5 400,542 410,539 420,537 430,536.5 440,539 450,535.1 460,537.5 470,536.5 480,533.9 490,539 500,540.1 510,541.2 520,540.1 530,538.5 540,539 550,536.2 560,539 570,540.5 580,541.5 590,541.9 600,542.5 610,542.9 620,544.1 630,544.1 640,544.1 650,544.9 660,545.1 670,545.3 680,545.5 690,545.9" fill="none" stroke="#ff0000" stroke-width="3" stroke-linejoin="round"/>
</g>
<g transform="translate(650,588.5)"><rect x="-5" y="-7" width="10" height="1.5" fill="#b8ecf4"/><path d="M0 -5.6L4.9 -2.8V2.8L0 5.6L-4.9 2.8V-2.8Z" fill="#5cbcf0"/><path d="M0 -4.6V4.6M-4 -2.3L4 2.3M-4 2.3L4 -2.3" stroke="#c8ecfc" stroke-width="1" fill="none"/><path d="M-.8 -3.4h1.6v1.4h-1.6zM-.8 2h1.6v1.4h-1.6zM-3.4 -2h1.5v1.4h-1.5zM1.9 -2h1.5v1.4h-1.5zM-3.4 .6h1.5v1.4h-1.5zM1.9 .6h1.5v1.4h-1.5z" fill="#1e90e8"/></g>
<text class="tb" style="fill:#00f" transform="translate(653,581) rotate(-90)" textLength="10" lengthAdjust="spacingAndGlyphs">3%</text>
<g transform="translate(670,588.5)"><rect x="-5" y="-7" width="10" height="1.5" fill="#b8ecf4"/><path d="M0 -5.6L4.9 -2.8V2.8L0 5.6L-4.9 2.8V-2.8Z" fill="#5cbcf0"/><path d="M0 -4.6V4.6M-4 -2.3L4 2.3M-4 2.3L4 -2.3" stroke="#c8ecfc" stroke-width="1" fill="none"/><path d="M-.8 -3.4h1.6v1.4h-1.6zM-.8 2h1.6v1.4h-1.6zM-3.4 -2h1.5v1.4h-1.5zM1.9 -2h1.5v1.4h-1.5zM-3.4 .6h1.5v1.4h-1.5zM1.9 .6h1.5v1.4h-1.5z" fill="#1e90e8"/></g>
<text class="tb" style="fill:#00f" transform="translate(673,581) rotate(-90)" textLength="10" lengthAdjust="spacingAndGlyphs">3%</text>
<path d="M50 600.5H691" stroke="#000" stroke-width="1" shape-rendering="crispEdges"/>
<text class="s" transform="translate(62,631) rotate(-90)" textLength="30" lengthAdjust="spacingAndGlyphs">06/12</text>
<text class="s" transform="translate(102,631) rotate(-90)" textLength="30" lengthAdjust="spacingAndGlyphs">07/12</text>
<text class="s" transform="translate(142,631) rotate(-90)" textLength="30" lengthAdjust="spacingAndGlyphs">08/12</text>
<text class="s" transform="translate(182,631) rotate(-90)" textLength="30" lengthAdjust="spacingAndGlyphs">09/12</text>
<text class="s" transform="translate(222,631) rotate(-90)" textLength="30" lengthAdjust="spacingAndGlyphs">10/12</text>
<text class="s" transform="translate(262,631) rotate(-90)" textLength="30" lengthAdjust="spacingAndGlyphs">11/12</text>
<text class="s" transform="translate(302,631) rotate(-90)" textLength="30" lengthAdjust="spacingAndGlyphs">12/12</text>
<text class="s" transform="translate(342,631) rotate(-90)" textLength="30" lengthAdjust="spacingAndGlyphs">13/12</text>
<text class="s" transform="translate(382,631) rotate(-90)" textLength="30" lengthAdjust="spacingAndGlyphs">14/12</text>
<text class="s" transform="translate(422,631) rotate(-90)" textLength="30" lengthAdjust="spacingAndGlyphs">15/12</text>
<text class="s" transform="translate(462,631) rotate(-90)" textLength="30" lengthAdjust="spacingAndGlyphs">16/12</text>
<text class="s" transform="translate(502,631) rotate(-90)" textLength="30" lengthAdjust="spacingAndGlyphs">17/12</text>
<text class="s" transform="translate(542,631) rotate(-90)" textLength="30" lengthAdjust="spacingAndGlyphs">18/12</text>
<text class="s" transform="translate(582,631) rotate(-90)" textLength="30" lengthAdjust="spacingAndGlyphs">19/12</text>
<text class="s" transform="translate(622,631) rotate(-90)" textLength="30" lengthAdjust="spacingAndGlyphs">20/12</text>
<text class="s" transform="translate(662,631) rotate(-90)" textLength="30" lengthAdjust="spacingAndGlyphs">21/12</text>
<text class="s" transform="translate(702,631) rotate(-90)" textLength="30" lengthAdjust="spacingAndGlyphs">22/12</text>
<text class="s" x="60" y="205" textLength="54" lengthAdjust="spacingAndGlyphs">Geop Z500</text>
<text class="s" x="60" y="541" textLength="84" lengthAdjust="spacingAndGlyphs">Précipitations</text>
<rect x="35" y="645" width="30" height="4" fill="#f00"/>
<text class="s" x="75" y="651" textLength="126" lengthAdjust="spacingAndGlyphs">Moyenne des scénarios</text>
<rect x="225" y="635" width="30" height="4" fill="#00f"/>
<rect x="225" y="645" width="30" height="4" fill="#000"/>
<text class="s" x="264" y="642" textLength="90" lengthAdjust="spacingAndGlyphs">Run de contrôle</text>
<text class="s" x="264" y="651" textLength="42" lengthAdjust="spacingAndGlyphs">Run GFS</text>
<text class="s" x="180" y="664" textLength="150" lengthAdjust="spacingAndGlyphs">Altitude du modele : 141m</text>
<text class="s" x="340" y="657" textLength="54" lengthAdjust="spacingAndGlyphs">30 Perts.</text>
<rect x="400" y="650" width="10" height="6" fill="#e8842c"/>
<text class="t" x="400" y="647" textLength="10" lengthAdjust="spacingAndGlyphs">01</text>
<rect x="411" y="650" width="10" height="6" fill="#80c868"/>
<text class="t" x="411" y="647" textLength="10" lengthAdjust="spacingAndGlyphs">02</text>
<rect x="422" y="650" width="10" height="6" fill="#f0c010"/>
<text class="t" x="422" y="647" textLength="10" lengthAdjust="spacingAndGlyphs">03</text>
<rect x="433" y="650" width="10" height="6" fill="#9050b8"/>
<text class="t" x="433" y="647" textLength="10" lengthAdjust="spacingAndGlyphs">04</text>
<rect x="444" y="650" width="10" height="6" fill="#b05010"/>
<text class="t" x="444" y="647" textLength="10" lengthAdjust="spacingAndGlyphs">05</text>
<rect x="455" y="650" width="10" height="6" fill="#5a8a10"/>
<text class="t" x="455" y="647" textLength="10" lengthAdjust="spacingAndGlyphs">06</text>
<rect x="466" y="650" width="10" height="6" fill="#1080f0"/>
<text class="t" x="466" y="647" textLength="10" lengthAdjust="spacingAndGlyphs">07</text>
<rect x="477" y="650" width="10" height="6" fill="#e8d8b0"/>
<text class="t" x="477" y="647" textLength="10" lengthAdjust="spacingAndGlyphs">08</text>
<rect x="488" y="650" width="10" height="6" fill="#3890c0"/>
<text class="t" x="488" y="647" textLength="10" lengthAdjust="spacingAndGlyphs">09</text>
<rect x="499" y="650" width="10" height="6" fill="#e8a858"/>
<text class="t" x="499" y="647" textLength="10" lengthAdjust="spacingAndGlyphs">10</text>
<rect x="510" y="650" width="10" height="6" fill="#605020"/>
<text class="t" x="510" y="647" textLength="10" lengthAdjust="spacingAndGlyphs">11</text>
<rect x="521" y="650" width="10" height="6" fill="#f06820"/>
<text class="t" x="521" y="647" textLength="10" lengthAdjust="spacingAndGlyphs">12</text>
<rect x="532" y="650" width="10" height="6" fill="#d0c078"/>
<text class="t" x="532" y="647" textLength="10" lengthAdjust="spacingAndGlyphs">13</text>
<rect x="543" y="650" width="10" height="6" fill="#10d858"/>
<text class="t" x="543" y="647" textLength="10" lengthAdjust="spacingAndGlyphs">14</text>
<rect x="554" y="650" width="10" height="6" fill="#284868"/>
<text class="t" x="554" y="647" textLength="10" lengthAdjust="spacingAndGlyphs">15</text>
<rect x="565" y="650" width="10" height="6" fill="#707880"/>
<text class="t" x="565" y="647" textLength="10" lengthAdjust="spacingAndGlyphs">16</text>
<rect x="576" y="650" width="10" height="6" fill="#e080f0"/>
<text class="t" x="576" y="647" textLength="10" lengthAdjust="spacingAndGlyphs">17</text>
<rect x="587" y="650" width="10" height="6" fill="#8020f0"/>
<text class="t" x="587" y="647" textLength="10" lengthAdjust="spacingAndGlyphs">18</text>
<rect x="598" y="650" width="10" height="6" fill="#806030"/>
<text class="t" x="598" y="647" textLength="10" lengthAdjust="spacingAndGlyphs">19</text>
<rect x="609" y="650" width="10" height="6" fill="#300870"/>
<text class="t" x="609" y="647" textLength="10" lengthAdjust="spacingAndGlyphs">20</text>
<rect x="620" y="650" width="10" height="6" fill="#f0d010"/>
<text class="t" x="620" y="647" textLength="10" lengthAdjust="spacingAndGlyphs">21</text>
<rect x="631" y="650" width="10" height="6" fill="#2868a0"/>
<text class="t" x="631" y="647" textLength="10" lengthAdjust="spacingAndGlyphs">22</text>
<rect x="642" y="650" width="10" height="6" fill="#905820"/>
<text class="t" x="642" y="647" textLength="10" lengthAdjust="spacingAndGlyphs">23</text>
<rect x="653" y="650" width="10" height="6" fill="#9890e8"/>
<text class="t" x="653" y="647" textLength="10" lengthAdjust="spacingAndGlyphs">24</text>
<rect x="664" y="650" width="10" height="6" fill="#a0f040"/>
<text class="t" x="664" y="647" textLength="10" lengthAdjust="spacingAndGlyphs">25</text>
<rect x="675" y="650" width="10" height="6" fill="#d078d0"/>
<text class="t" x="675" y="647" textLength="10" lengthAdjust="spacingAndGlyphs">26</text>
<rect x="686" y="650" width="10" height="6" fill="#2008a0"/>
<text class="t" x="686" y="647" textLength="10" lengthAdjust="spacingAndGlyphs">27</text>
<rect x="697" y="650" width="10" height="6" fill="#e0c8a0"/>
<text class="t" x="697" y="647" textLength="10" lengthAdjust="spacingAndGlyphs">28</text>
<rect x="708" y="650" width="10" height="6" fill="#880810"/>
<text class="t" x="708" y="647" textLength="10" lengthAdjust="spacingAndGlyphs">29</text>
<rect x="719" y="650" width="10" height="6" fill="#0838c0"/>
<text class="t" x="719" y="647" textLength="10" lengthAdjust="spacingAndGlyphs">30</text>
<rect x="20.5" y="667.5" width="420" height="32" fill="#fff" stroke="#000" stroke-width="1" shape-rendering="crispEdges"/>
<text class="b" x="30" y="681" textLength="357" lengthAdjust="spacingAndGlyphs">Diagramme des ensembles GEFS sur 384h : 41.9N 12.5E</text>
<text class="s" x="30" y="696" textLength="192" lengthAdjust="spacingAndGlyphs">Géopotentiel 500hpa - Z500 (dam)</text>
<text class="s" x="449" y="676" textLength="198" lengthAdjust="spacingAndGlyphs">Ensemble GEFS du 06/12/2025 - 00Z</text>
<text class="b" x="449" y="696" textLength="189" lengthAdjust="spacingAndGlyphs">Copyright 2025 Meteociel.fr</text>
</svg></body></html>
